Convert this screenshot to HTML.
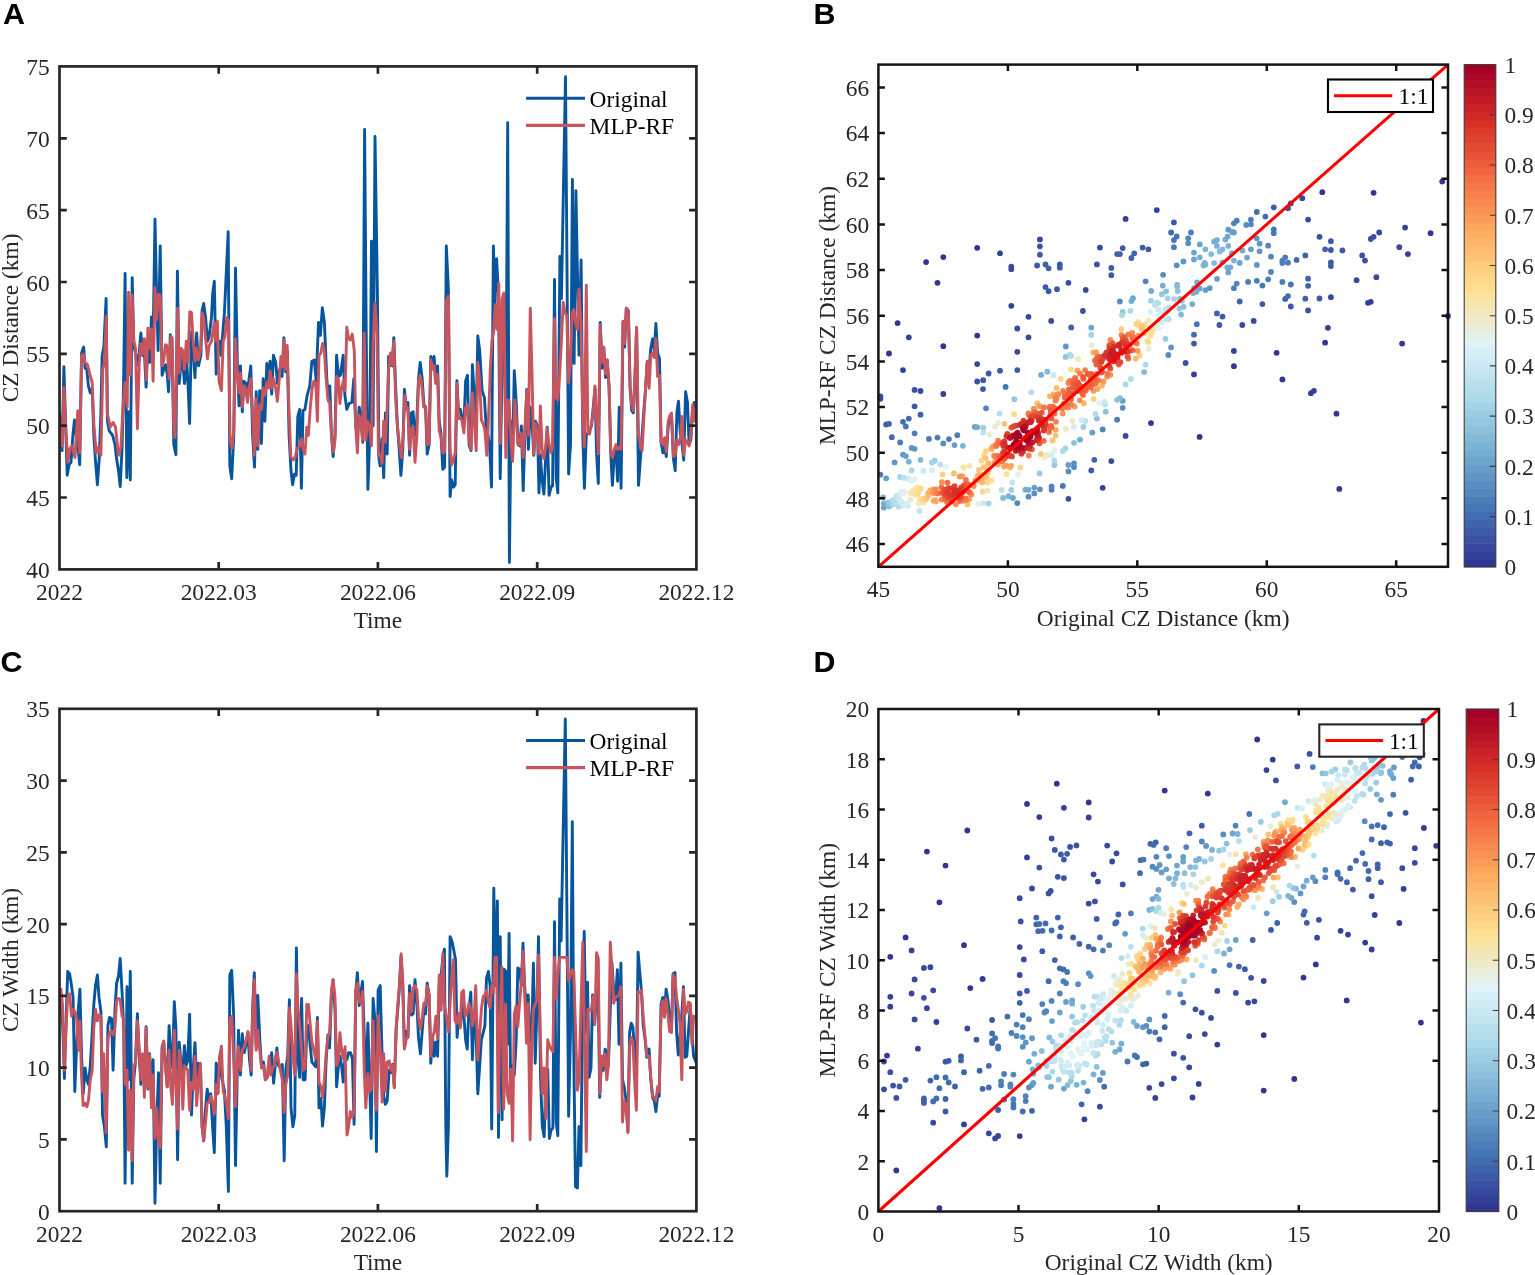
<!DOCTYPE html>
<html lang="en"><head><meta charset="utf-8"><title>Figure</title>
<style>html,body{margin:0;padding:0;background:#fff}body{width:1535px;height:1275px;overflow:hidden}svg{display:block}</style></head><body>
<svg width="1535" height="1275" viewBox="0 0 1535 1275">
<rect width="1535" height="1275" fill="#fff"/>
<clipPath id="ca"><rect x="59.5" y="66.4" width="636.9" height="503.0"/></clipPath>
<polyline clip-path="url(#ca)" points="59.5,412.9 62.1,450.6 63.9,366.6 65.6,423.5 67.2,475.3 69.1,464.7 71,462.4 72.9,435.3 74.5,420 76.2,435.3 77.8,444.7 79.7,464.7 81.6,352.9 83.7,347.1 85.1,368.2 86.8,369.4 88.4,385.9 90.3,392.9 92.2,388.2 93.8,435.3 95.5,461.2 97.4,484.7 99.2,458.8 100.9,411.8 102.1,356.5 103.9,345.9 106.1,298.4 107.5,421.2 109.1,430.6 112.6,435.3 115,444.7 116.6,458.8 118.5,470.6 120.2,486.6 122.1,447.1 123.5,388.2 125.1,273.4 126.8,477.6 128.4,411.8 130.3,480 132.2,277.6 133.8,345.9 135.5,352.9 137.4,364.7 139.2,352.9 140.9,332.9 142.5,355.3 144.4,352.9 146.1,387.1 147.9,341.2 149.6,362.4 151.5,316.9 153.1,341.2 155,219.3 156.6,294.1 158.1,350.6 160.2,245.9 162.1,375.3 163.7,369.4 165.6,364.7 167.2,374.1 168.6,391.8 170.3,334.6 172.2,350.6 173.8,444.7 175.9,454.6 177.4,271.3 179.2,383.5 180.9,364.7 182.1,350.6 184.4,383.5 186.8,362.4 188.2,388.2 189.6,423.5 191.5,331.8 193.4,352.9 195,377.6 196.6,332.9 198.5,365.9 200.9,355.3 202.1,310.6 203.7,303.5 205.6,317.6 207.5,341.2 209.1,336.5 211.5,317.6 212.6,294.1 214.3,281.2 216.2,374.1 217.8,350.6 219.7,341.2 220.9,355.3 224.4,312.9 228.2,231.8 229.8,465.9 231.7,478.8 233.8,435.3 235.5,268.2 237.4,364.7 239,405.9 240.4,365.9 242.3,411.8 243.9,381.2 246.3,383.5 247.9,388.2 250.8,365.9 252.6,435.3 254.5,467.1 256.2,391.8 257.8,449.4 259.7,390.6 261.4,443.5 263.2,378.8 264.9,421.2 266.8,363.5 268.4,381.2 270.1,361.2 271.7,394.1 273.4,355.3 275.7,362.4 277.4,383.5 279.7,369.4 282.1,376.5 283.9,337.6 285.6,371.8 287.2,350.6 289.1,435.3 291,470.6 292.6,484.7 294.5,474.1 296.2,475.3 297.8,416.5 299.7,409.4 301.4,488.2 303,410.6 304.9,409.4 307.2,395.3 309.8,385.9 311.9,361.2 314.3,360 316.2,381.2 318.5,322.4 320.4,335.3 322.3,307.8 324.4,322.4 326.8,378.8 328.4,401.2 329.8,385.9 331.5,435.3 333.1,456.5 335,435.3 336.6,355.3 338.5,376.5 340.4,375.3 343.2,355.3 344.9,395.3 346.8,409.4 349.1,403.5 351.9,402.4 353.8,378.8 355.7,425.9 357.4,435.3 359.2,407.1 360.9,416.5 362.8,442.4 364.6,129.4 366.3,341.2 367.9,489.4 369.8,435.3 371.5,241.2 373.1,425.9 375,136.5 377.4,294.1 379,458.8 380.2,465.9 382.1,438.8 383.7,477.6 385.4,412.9 387.2,454.1 388.6,356.5 390.5,364.7 392.2,365.9 393.8,337.6 395.7,388.2 397.4,425.9 399.2,449.4 400.9,475.3 402.8,449.4 404.4,389.4 406.3,407.1 407.9,402.4 409.6,455.3 411.5,412.9 413.1,411.8 415,435.3 416.6,425.9 418.5,378.8 420.2,362.4 422.1,377.6 423.9,404.7 425.6,407.1 427.2,454.1 429.1,444.7 430.8,356.5 432.4,362.4 434.1,356.5 435.7,378.8 437.6,365.9 439.2,421.2 440.9,432.9 442.8,469.4 444.6,467.1 446.3,245.9 448.4,289.4 450.1,496.5 451.7,480 453.6,487.1 455.2,484.7 456.9,380.7 458.5,411.8 460.4,409.4 462.1,418.8 463.9,425.9 465.6,381.2 467.5,375.3 469.1,444.7 471,450.6 472.4,364.7 474.3,395.3 476.2,421.2 477.8,336 479.7,350.6 482.1,390.6 484.4,397.6 486.1,425.9 487.9,435.3 489.6,445.9 491.5,487.1 493.4,245.9 495,303.5 496.6,258.8 498.5,294.1 500.2,478.8 502.1,364.7 503.9,294.1 505.8,435.3 507.7,122.8 509.4,562.4 511,421.2 512.6,454.1 514.3,370.6 516.2,402.4 518.1,444.7 519.7,445.9 521.4,425.9 523.2,490.6 524.9,435.3 526.8,389.4 528.4,449.4 530.3,407.1 532.2,425.9 533.8,455.3 535.5,421.2 537.4,425.9 539,492.9 540.2,454.1 542.1,480 543.9,494.1 545.6,458.8 547.2,427.1 549.1,495.3 551,487.1 552.6,485.9 554.5,279.5 556.2,477.6 557.8,492.9 559.9,256.5 561.4,298.8 565.5,76.7 568.6,474.1 570.5,444.7 572.4,179.5 574.1,363.5 575.9,190.6 577.4,270.6 579,355.3 581.1,260 582.8,435.3 584.4,488.2 586.3,435.3 587.9,432.9 591.5,425.9 595,388.2 596.6,454.1 598.3,483.5 600.2,322.4 602.1,368.2 603.7,347.1 605.6,377.6 607.2,360 609.1,388.2 610.8,454.1 612.4,485.4 614.3,454.1 615.9,447.1 617.6,481.2 619.2,407.1 621.1,488.2 623,322.4 624.6,347.1 626.3,308.2 628.4,310.6 630.1,388.2 631.7,410.6 633.4,412.9 635,376.5 636.6,328.2 638.5,485.4 640.4,458.8 642.1,435.3 643.7,411.8 645.6,388.2 647.2,362.4 649.1,369.4 650.8,348.2 652.6,338.8 654.3,350.6 655.9,323.5 657.6,352.9 659.5,358.8 661.1,442.4 663,452.9 664.6,447.1 666.3,456.5 668.2,425.9 670.1,416.5 671.5,414.1 673.4,458.8 675.2,470.6 676.9,411.8 678.5,401.2 680.4,435.3 682.1,444.7 683.7,460 685.6,391.8 687.5,402.4 689.1,444.7 690.8,440 692.6,411.8 694.3,402.4 696.4,421.2" fill="none" stroke="#07559d" stroke-width="2.9" stroke-linejoin="round" stroke-linecap="round"/>
<polyline clip-path="url(#ca)" points="58.5,428.2 60.2,431.8 62.1,445.9 63.9,387.1 65.6,425.9 67.9,462.4 69.6,449.4 71.9,445.9 75,457.6 77.8,410.6 79.7,452.9 81.6,355.3 83.2,354.1 85.1,362.4 87.5,364.7 89.8,374.1 92.2,382.4 93.8,423.5 96.2,452.9 98.5,447.1 100.9,455.3 102.8,369.4 104.4,362.4 106.3,316.5 107.2,412.9 110.3,427.1 113.1,422.4 115.5,427.1 118.5,455.3 120.9,447.1 123.2,404.7 125.1,382.4 127.2,407.1 128.6,292.2 130.3,375.3 132.2,295.3 133.8,341.2 135.5,348.2 137.4,428.7 139.2,364.7 140.9,343.5 142.5,354.1 144.4,338.8 146.3,380 147.9,328.2 149.6,348.2 151.5,328.9 153.1,381.2 155,287.5 156.6,320 158.5,294.1 160.2,295.3 162.1,365.9 163.7,360 165.6,344.7 167.2,345.9 169.1,378.8 170.8,336.5 172.2,337.6 173.8,425.9 175,437.6 176.6,364.7 177.6,308.2 179.2,372.9 180.9,348.2 182.8,350.6 184.4,369.4 186.3,341.2 187.9,362.4 189.8,311.8 191.5,312.5 193.1,338.8 195,361.2 196.6,348.2 198.5,360 200.4,350.6 202.1,312.9 203.7,317.6 205.6,338.8 207.5,358.8 209.1,345.9 211.5,341.2 214.3,322.4 215.5,341.2 217.4,321.2 219,381.2 221.4,390.6 223.2,341.2 224.9,336.5 226.8,317.6 228.4,320 230.1,440 231.9,448.2 233.8,430.6 235.5,338.8 237.4,374.1 239,392.9 240.4,372.9 242.3,407.1 243.9,385.9 245.6,388.2 247.5,402.4 249.1,388.2 250.8,378.8 252.6,411.8 254.3,455.3 256.2,398.8 257.8,445.9 259.7,404.7 261.6,409.4 263.2,388.2 264.9,395.3 266.8,382.4 268.4,388.2 270.1,370.6 271.7,388.2 273.4,378.8 275.7,388.2 277.4,401.2 279.7,374.1 280.9,356.5 282.5,367.1 283.9,340 285.6,369.4 287.2,345.4 288.9,407.1 290.8,456.5 293.1,460 295,457.6 297.4,448.2 299.2,447.1 301.4,438.8 303.2,449.4 304.9,454.1 306.8,427.1 308.4,435.3 310.3,407.1 312.2,388.2 313.8,381.2 315.7,382.4 317.4,421.2 319,355.3 320.9,352.9 322.5,343.5 324.4,350.6 326.1,378.8 327.9,398.8 329.6,402.4 331.5,435.3 333.4,451.8 335,440 336.6,376.5 338.3,378.8 339.9,403.5 341.6,388.2 343.7,380 345.1,390.6 346.8,327.1 348.6,338.8 350.3,340 352.2,334.1 354.3,350.6 355.7,425.9 357.4,452.9 359,415.3 360.9,421.2 362.5,440 364.2,332.9 365.8,440 367.5,421.2 369.4,425.9 371.5,445.9 373.1,345.9 375,303.5 376.9,331.8 378.5,455.3 380.2,454.1 382.1,463.5 383.7,421.2 385.4,442.4 387.2,407.1 388.6,369.4 390.5,352.9 392.2,364.7 393.8,341.2 395.7,400 397.4,425.9 399.2,442.4 401.4,457.6 403.2,435.3 404.9,395.3 406.3,409.4 407.9,408.2 409.6,449.4 411.5,428.2 413.1,427.1 415,462.4 416.9,435.3 418.5,381.2 420.2,375.3 422.1,388.2 423.7,407.1 425.6,407.1 427.2,444.7 429.1,443.5 430.8,360 432.4,369.4 434.1,365.9 435.7,383.5 437.6,374.1 439.2,430.6 441.1,437.6 442.8,452.9 444.6,451.8 446.3,301.2 448.4,296 450.1,449.4 451.7,464.7 453.6,458.8 455.2,452.9 456.9,383.5 458.5,418.8 460.4,417.6 462.1,421.2 463.9,432.9 465.6,407.1 467.5,404.7 469.1,440 471,449.4 472.6,392.9 474.3,421.2 476.2,450.6 477.8,362.4 479.7,381.2 481.4,420 483.2,423.5 484.9,430.6 486.8,455.3 488.4,421.2 490.3,369.4 491.9,341.2 493.6,331.8 495.2,304.7 496.9,329.4 498.8,283.5 500.4,443.5 502.1,298.8 503.9,292.9 505.8,457.6 507.5,400 509.1,401.2 511,442.4 512.6,461.2 514.8,400 516.6,422.4 518.1,444.7 519.7,444.7 521.4,432.9 523.2,457.6 524.9,430.6 526.8,390.6 528.4,435.3 530.3,308.2 531.9,369.4 533.8,454.1 535.5,423.5 537.4,435.3 539,454.1 540.4,405.9 542.1,449.4 543.9,458.8 545.6,447.1 547.2,428.2 549.1,444.7 551,452.9 552.6,447.1 554.5,318.8 556.2,397.6 557.8,400 559.7,374.1 561.4,341.2 563.2,302.4 565.1,312.9 566.8,315.3 568.6,382.4 570.3,364.7 572.2,312.9 573.8,309.4 575.5,322.4 577.4,329.4 579,288.9 580.9,322.4 582.5,407.1 584.4,447.1 586.3,285.2 587.9,432.9 589.6,434.1 591.5,423.5 593.4,411.8 595,385.9 596.6,418.8 598.3,454.1 600.2,324.7 602.1,362.4 603.7,347.1 605.6,374.1 607.2,360 609.1,385.9 610.8,452.9 612.4,457.6 614.3,449.4 615.9,444.7 617.6,449.4 619.2,447.1 621.1,449.4 623,321.2 624.6,343.5 626.3,308.2 628.4,311.8 630.1,385.9 631.7,404.7 633.4,410.6 635,374.1 636.6,327.1 638.5,435.3 640.4,444.7 642.1,450.6 643.7,421.2 645.6,388.2 647.2,361.2 649.1,388.2 650.8,355.3 652.6,352.9 654.3,357.6 655.9,338.8 657.6,376.5 659.5,375.3 661.1,442.4 663,444.7 664.6,437.6 666.3,451.8 668.2,421.2 670.1,415.3 671.5,412.9 673.4,456.5 675.2,455.3 676.9,440 678.5,444.7 680.4,437.6 682.1,416.5 683.7,455.3 685.6,440 687.5,442.4 689.1,445.9 690.8,435.3 692.6,404.7 694.3,421.2 696.4,407.1" fill="none" stroke="#c8555d" stroke-width="2.9" stroke-linejoin="round" stroke-linecap="round"/>
<rect x="59.5" y="66.4" width="636.9" height="503.0" fill="none" stroke="#262626" stroke-width="2.7"/>
<path d="M218.7,569.4v-7.3M218.7,66.4v7.3M377.9,569.4v-7.3M377.9,66.4v7.3M537.2,569.4v-7.3M537.2,66.4v7.3M59.5,497.5h7.3M696.4,497.5h-7.3M59.5,425.7h7.3M696.4,425.7h-7.3M59.5,353.8h7.3M696.4,353.8h-7.3M59.5,282h7.3M696.4,282h-7.3M59.5,210.1h7.3M696.4,210.1h-7.3M59.5,138.3h7.3M696.4,138.3h-7.3" stroke="#262626" stroke-width="2.7" fill="none"/>
<g font-family='"Liberation Serif", "Times New Roman", serif' font-size="23.4" fill="#262626">
<text x="49.7" y="577.9" text-anchor="end">40</text>
<text x="49.7" y="506" text-anchor="end">45</text>
<text x="49.7" y="434.2" text-anchor="end">50</text>
<text x="49.7" y="362.3" text-anchor="end">55</text>
<text x="49.7" y="290.5" text-anchor="end">60</text>
<text x="49.7" y="218.6" text-anchor="end">65</text>
<text x="49.7" y="146.8" text-anchor="end">70</text>
<text x="49.7" y="74.9" text-anchor="end">75</text>
<text x="59.5" y="599.7" text-anchor="middle">2022</text>
<text x="218.7" y="599.7" text-anchor="middle">2022.03</text>
<text x="377.9" y="599.7" text-anchor="middle">2022.06</text>
<text x="537.2" y="599.7" text-anchor="middle">2022.09</text>
<text x="696.4" y="599.7" text-anchor="middle">2022.12</text>
<text x="377.9" y="627.7" text-anchor="middle">Time</text>
<text transform="translate(17.6,317.9) rotate(-90)" text-anchor="middle">CZ Distance (km)</text>
</g>
<path d="M526.1,98.2H585" stroke="#07559d" stroke-width="3.1"/>
<path d="M526.1,125.4H585" stroke="#c8555d" stroke-width="3.1"/>
<g font-family='"Liberation Serif", "Times New Roman", serif' font-size="23.4" fill="#000"><text x="589.6" y="106.9">Original</text><text x="589.6" y="133.9">MLP-RF</text></g>
<clipPath id="cc"><rect x="59.5" y="708.8" width="636.9" height="502.4000000000001"/></clipPath>
<polyline clip-path="url(#cc)" points="59,1013.8 60.9,997.4 62.8,1027.9 64.4,1078.5 66.1,1018.5 67.7,971.5 69.6,973.8 71.5,985.6 73.1,997.4 74.8,1091.5 76.6,1046.8 78.3,1009.1 79.9,989.1 81.6,1056.2 83.2,1093.8 85.1,1067.9 86.8,1079.7 88.4,1084.4 90.3,1065.6 92.2,1032.6 93.8,1004.4 95.5,985.6 97.4,975 99,997.4 100.9,1011.5 102.5,1115 104.4,1126.8 106.3,1146.8 107.9,1025.6 109.6,1017.4 111.5,1018.5 113.1,1070.3 115,1009.1 116.6,983.2 118.5,976.2 120.2,958.5 122.1,992.6 123.7,1027.9 125.1,1183.2 127,986.8 128.6,1079.7 130.3,971.5 132.2,1183.2 133.8,1079.7 135.5,1060.9 137.4,1013.8 139.2,1056.2 140.9,1084.4 142.5,1056.2 144.4,1079.7 146.1,1026.8 147.9,1089.1 149.6,1053.8 151.5,1093.8 153.1,1059.7 155,1203.2 156.6,1126.8 158.5,1072.6 160.2,1183.2 162.1,1046.8 163.7,1042.1 165.6,1065.6 167.2,1086.8 169.1,1025.6 170.8,1056.2 172.4,1067.9 174.3,1001.6 175.9,1027.9 177.6,1159.7 179.2,1042.1 180.9,1060.9 182.5,1079.7 184.4,1045.6 186.1,1065.6 187.7,1060.9 189.6,1014.3 191.5,1115 193.4,1065.6 195,1042.8 196.6,1079.7 198.5,1063.2 200.4,1065.6 202.1,1126.8 203.7,1140.9 205.6,1107.9 207.2,1089.1 209.1,1100.9 210.8,1093.8 212.6,1126.8 214.3,1152.6 216.2,1063.2 217.8,1093.8 219.7,1056.2 220.2,1065.6 222.1,1079.7 224.4,1090.3 226.3,1126.8 228.4,1191.5 229.8,975 231.7,970.3 233.6,1013.8 235.5,1165.6 237.1,1079.7 238.5,1030.3 240.4,1075 242.3,1033.8 244.2,1052.6 246.1,1044.4 247.9,1032.6 249.6,1060.9 251.2,1075 252.6,1009.1 254.3,972.6 256.2,1046.8 257.8,995.5 259.7,1037.4 261.6,1067.9 263.5,1062.1 265.4,1079.7 267.2,1077.4 269.1,1067.9 271.7,1052.6 273.6,1083.2 275.2,1065.6 276.9,1047.9 278.5,1065.6 280.4,1067.9 282.3,1064.4 284.2,1160.9 285.8,1069.1 287.7,1056.2 289.4,999.7 291,1107.9 292.9,1126.8 294.8,1115 296.4,947.9 298.1,1060.9 299.7,1077.4 301.6,998.5 303.2,1079.7 305.1,1079.7 306.8,1030.3 308.4,1025.6 310.3,1046.8 311.9,1062.1 313.8,1064.4 315.7,1066.8 317.4,1017.4 319,1107.9 320.9,1098.5 322.5,1126.1 324.4,1107.9 326.1,1060.9 327.9,1035 329.6,1047.9 331.5,992.6 333.1,979.7 335,1009.1 336.6,1086.8 338.3,1067.9 339.9,1056.2 341.6,1065.6 343.2,1082.1 345.1,1056.2 346.8,1059.7 348.6,1052.6 350.5,1052.6 352.4,1058.5 354.1,1124.4 355.7,992.6 357.4,972.6 359.2,1005.6 360.9,992.6 362.5,981.4 364.2,1032.6 365.8,1093.8 367.9,1023.2 369.6,1079.7 371.2,1138.5 373.1,998.5 375,1020.9 376.4,1151.5 378.1,990.3 380.2,985.6 382.1,1056.2 383.7,1096.2 385.4,1104.4 387.2,1100.9 389.1,1070.3 391,1072.6 392.6,1064.4 394.3,1086.8 396.2,1027.9 397.8,1009.1 399.5,985.6 401.1,956.2 402.8,985.6 404.4,1046.8 406.1,1031.5 407.9,1037.4 409.6,985.6 411.5,1015 413.1,1013.8 415,979.7 416.9,1004.4 418.5,1037.4 420.4,1053.8 422.1,1032.6 423.9,1009.1 425.6,1013.8 427.2,983.2 429.1,995 430.8,1063.2 432.6,1037.4 434.3,1056.2 435.9,1042.1 437.6,1056.2 439.2,985.6 441.1,976.2 442.8,957.4 444.4,949.1 445.8,1126.8 446.8,1176.2 448.4,1126.8 450.1,936.6 452.2,942.1 453.8,950.3 455.5,959.7 457.1,1037.4 459,1013.8 460.6,1025.6 462.3,992.6 463.9,1016.2 465.6,1039.7 467.2,1049.1 468.9,1009.1 470.8,992.2 472.4,1059.7 474.1,1013.8 475.7,1018.5 477.8,1093.8 479.7,1065.6 481.4,1039.7 483.2,1032.6 484.9,1025.6 486.5,978.5 488.4,971.5 490.1,985.6 491.7,1129.1 493.8,888.2 495.5,985.6 497.4,900.9 498.5,1137.4 500.2,936.6 502.1,1119.7 503.9,969.1 505.8,971.5 507.5,1044.4 509.1,933.4 510.8,1103.2 512.6,1065.6 514.3,1075 516.2,1039.7 517.8,967.9 519.5,969.1 521.4,985.6 523,943.2 524.6,985.6 526.5,1009.1 528.2,995 530.1,1042.1 531.7,1032.6 533.4,963.2 535.2,1063.2 536.9,1009.1 538.5,936.6 540.6,1079.7 542.3,1126.8 544.2,1136.6 545.8,1079.7 547.7,1069.1 549.4,1138.5 551,1130.3 552.9,1127.9 554.5,921.6 556.2,1122.1 557.8,1135.7 559.7,899 561.1,940.9 565.3,719 568.6,1116.2 570.5,1032.6 572.3,821.8 573.8,1056.2 575.5,1186.8 577.4,1187.9 579,1126.8 580.9,1165.6 582.5,1009.1 584.2,931.5 585.8,1032.6 587.5,982.1 589.1,1077.4 591,1067.9 592.6,995 594.3,1024.4 596.2,1004.4 597.8,962.1 599.7,1097.4 601.6,1056.2 603.2,1070.3 605.1,1049.1 606.8,1053.8 608.4,1065.6 610.3,1009.1 611.9,962.1 613.8,992.6 615.5,999.7 617.4,969.6 619,1044.4 620.9,963.2 622.5,1079.7 624.4,1087.9 626.1,1100.9 627.9,1131.5 629.6,1032.6 631.2,1023.2 632.9,1026.8 634.8,1056.2 636.4,1067.9 638.1,952.2 639.7,971.5 641.4,990.3 643.2,1025.6 644.9,1037.4 646.8,1057.4 649.1,1049.1 650.8,1079.7 652.6,1097.4 654.3,1100.9 655.9,1111.5 657.6,1096.2 659.2,1096.2 661.1,1004.4 662.8,997.4 664.4,1016.2 666.1,989.1 667.9,999.7 669.6,1018.5 671.5,1027.9 673.1,973.8 675,972.6 676.6,1032.6 678.3,1055 679.9,1037.4 681.8,1013.8 683.5,986.8 685.1,1057.4 686.8,1056.2 688.4,1032.6 690.3,1005.6 691.9,1032.6 693.6,1056.2 696.4,1063.2" fill="none" stroke="#07559d" stroke-width="2.9" stroke-linejoin="round" stroke-linecap="round"/>
<polyline clip-path="url(#cc)" points="59,999.7 60.9,989.1 62.5,1004.4 64.4,1070.3 66.1,1027.9 67.7,996.2 69.6,993.8 71.5,1016.2 73.1,1009.1 74.8,1011.5 76.6,1017.4 78.3,1050.3 79.9,1020.9 81.6,1077.4 83.2,1105.6 85.1,1103.2 86.8,1106.8 88.4,1100.9 90.3,1079.7 92.2,1070.3 93.8,1027.9 95.5,1009.1 97.4,1020.9 99,1015 100.9,1016.2 102.5,1091.5 103.9,1053.8 106.1,1132.6 107.9,1039.7 109.6,1032.6 111.5,1031.5 113.1,1035 115,1027.9 116.6,1000.9 118.5,998.5 120.2,999.7 122.1,1016.2 123.7,1018.5 125.1,1084.4 127,1070.3 128.6,1150.3 130.3,1090.3 132.2,1160.9 133.8,1065.6 135.5,1063.2 137.4,1020.9 139.2,1049.1 140.9,1079.7 142.5,1053.8 144.4,1097.4 146.1,1027.9 147.9,1087.9 149.6,1055 151.5,1107.9 153.1,1075 155,1138.5 156.6,1107.9 158.5,1140.9 160.2,1147.9 162.1,1049.1 163.7,1040.9 165.6,1067.9 167.2,1086.8 169.1,1050.3 170.8,1086.8 172.4,1104.4 174.3,1030.3 175.9,1084.4 177.6,1129.1 179.2,1050.3 180.9,1065.6 182.8,1109.1 184.4,1065.6 186.1,1067.9 187.7,1070.3 189.6,1110.3 191.5,1082.1 193.4,1089.1 195,1056.2 196.6,1105.6 198.5,1079.7 200.4,1063.2 202.1,1126.8 203.7,1140.9 205.6,1122.1 207.2,1103.2 209.1,1102.1 210.8,1096.2 212.6,1103.2 214.3,1113.8 216.2,1084.4 217.8,1093.8 219.7,1056.2 221.4,1046.3 223.2,1091.5 224.9,1096.2 226.8,1105.6 228.4,1118.5 229.8,1018.5 231.7,1016.2 233.6,1056.2 235.5,1106.8 237.1,1065.6 238.5,1046.8 240.4,1070.3 242.3,1050.3 244.2,1046.8 246.1,1040.9 247.9,1031.5 249.6,1043.2 251.2,1070.3 252.6,1013.8 254.3,979.7 256.2,1050.3 257.8,1030.3 259.7,1049.1 261.6,1067.9 263.5,1065.6 265.4,1079.7 267.2,1077.4 269.1,1056.2 270.8,1075 272.6,1067.9 274.3,1065.6 275.9,1056.2 276.9,1052.2 278.5,1060.9 280.4,1070.3 282.3,1079.7 284.2,1112.6 285.8,1084.4 287.7,1075 289.4,1007.9 291,1025.6 292.9,1056.2 294.8,1075 296.4,973.8 298.1,1009.1 299.7,1025.6 301.6,1049.1 303.2,1070.3 305.1,1067.9 306.8,1004.4 308.4,1004.4 310.3,1025.6 311.9,1042.1 313.8,1050.3 315.7,1058.5 317.4,1020.9 319,1082.1 320.9,1086.8 322.5,1097.4 324.4,1079.7 326.1,1053.8 327.9,1037.4 329.6,1032.6 331.5,990.3 333.1,979.7 335,997.4 336.6,1065.6 338.3,1060.9 339.9,1032.6 341.6,1050.3 343.2,1058.5 345.1,1046.8 346.5,1115 347,1135 348.6,1126.8 350.3,1111.5 352.2,1117.4 354.1,1112.6 355.7,990.3 357.4,983.2 359.2,1000.9 360.9,1003.2 362.5,991.5 364.2,1070.3 365.8,1107.9 367.9,1073.8 369.6,1091.5 371.2,1089.1 373.1,1020.9 375,1079.7 376.4,1110.3 378.1,1016.2 380.2,1046.8 382.1,1102.1 383.7,1053.8 385.4,1091.5 387.2,1062.1 389.1,1060.9 391,1070.3 392.6,1065.6 394.3,1087.9 396.2,1027.9 397.8,1004.4 399.5,985.6 401.1,953.8 402.8,983.2 404.4,1049.1 406.1,1039.7 407.9,1036.2 409.6,993.8 411.5,1011.5 413.1,987.9 415,985.6 416.9,990.3 418.5,1017.4 420.4,1029.1 422.1,1018.5 423.9,1003.2 425.6,1004.4 427.2,985.6 429.1,995 430.8,1056.2 432.6,1037.4 434.3,1031.5 435.9,1016.2 437.6,1038.5 439.2,975 441.1,1010.3 442.8,953.8 444.4,1004.4 446.1,1013.8 448.4,1031.5 450.1,1004.4 451.7,976.2 453.4,959.7 455,1020.9 456.6,1023.2 458.5,1013.8 460.2,1027.9 461.8,992.6 463.5,990.3 465.1,1016.2 467,1013.8 468.9,1003.2 470.8,1009.1 472.4,1025.6 474.1,1018.5 475.7,985.6 477.8,1059.7 479.7,1032.6 481.4,1009.1 483.2,996.2 484.9,995 486.5,990.3 488.4,1002.1 490.1,1007.9 491.7,985.6 493.4,992.6 495,957.4 496.6,957.4 498.3,1112.6 499.9,1025.6 501.8,966.8 503.7,1109.1 505.6,1004.4 507.2,1093.8 509.1,1103.2 511,1069.1 512.6,1140.9 514.3,1013.8 516.2,1005.6 517.8,1026.8 519.5,1004.4 521.4,980.9 523,951.5 524.6,992.6 526.5,1043.2 528.2,1003.2 530.1,1139.7 531.7,1046.8 533.4,1009.1 535.2,1004.4 536.9,999.7 538.5,955 540.6,1046.8 542.3,1093.8 544.2,1067.9 545.8,1118.5 547.7,1039.7 549.4,1045.6 551,1049.1 552.9,1051.5 554.5,957.4 556.2,998.5 557.8,973.8 559.7,957.4 561.4,957.4 563.2,957.4 565.1,957.4 566.8,957.4 568.6,980.9 570.3,976.2 572.2,969.6 573.8,971.5 575.5,1027.9 577.4,1090.3 579,1079.7 580.9,1009.1 582.8,942.1 584.4,1032.6 586.3,1151.5 587.9,1009.1 589.6,1010.3 591.5,1009.1 593.1,996.2 594.8,1024.4 596.6,952.6 598.3,958.5 599.9,1093.8 601.6,1056.2 603.2,1065.6 605.1,1053.8 606.8,1079.7 608.4,1065.6 610.3,942.1 611.9,969.1 613.8,1003.2 615.5,997.4 617.4,996.2 619,995 620.9,986.8 622.5,1122.1 624.4,1100.9 626.1,1105.6 627.9,1132.6 629.6,1046.8 631.2,1037.4 632.9,1042.1 634.8,1084.4 636.4,1110.3 638.1,991.5 639.7,992.6 641.4,990.3 643.2,1016.2 644.9,1035 646.8,1056.2 649.1,1056.2 650.8,1077.4 652.6,1096.2 654.3,1097.4 655.9,1100.9 657.6,1086.8 659.2,1091.5 661.1,1009.1 662.8,1000.9 664.4,1017.4 666.1,998.5 667.9,1013.8 669.6,1031.5 671.5,1032.6 673.1,975 675,978.5 676.6,997.4 678.3,1009.1 679.9,1023.2 681.8,1079.7 683.5,989.1 685.1,1013.8 686.8,1011.5 688.4,1002.1 690.3,1003.2 691.9,1044.4 693.6,1016.2 696.4,1018.5" fill="none" stroke="#c8555d" stroke-width="2.9" stroke-linejoin="round" stroke-linecap="round"/>
<rect x="59.5" y="708.8" width="636.9" height="502.4000000000001" fill="none" stroke="#262626" stroke-width="2.7"/>
<path d="M218.7,1211.2v-7.3M218.7,708.8v7.3M377.9,1211.2v-7.3M377.9,708.8v7.3M537.2,1211.2v-7.3M537.2,708.8v7.3M59.5,1139.4h7.3M696.4,1139.4h-7.3M59.5,1067.7h7.3M696.4,1067.7h-7.3M59.5,995.9h7.3M696.4,995.9h-7.3M59.5,924.1h7.3M696.4,924.1h-7.3M59.5,852.3h7.3M696.4,852.3h-7.3M59.5,780.6h7.3M696.4,780.6h-7.3" stroke="#262626" stroke-width="2.7" fill="none"/>
<g font-family='"Liberation Serif", "Times New Roman", serif' font-size="23.4" fill="#262626">
<text x="49.7" y="1219.7" text-anchor="end">0</text>
<text x="49.7" y="1147.9" text-anchor="end">5</text>
<text x="49.7" y="1076.2" text-anchor="end">10</text>
<text x="49.7" y="1004.4" text-anchor="end">15</text>
<text x="49.7" y="932.6" text-anchor="end">20</text>
<text x="49.7" y="860.8" text-anchor="end">25</text>
<text x="49.7" y="789.1" text-anchor="end">30</text>
<text x="49.7" y="717.3" text-anchor="end">35</text>
<text x="59.5" y="1242.0" text-anchor="middle">2022</text>
<text x="218.7" y="1242.0" text-anchor="middle">2022.03</text>
<text x="377.9" y="1242.0" text-anchor="middle">2022.06</text>
<text x="537.2" y="1242.0" text-anchor="middle">2022.09</text>
<text x="696.4" y="1242.0" text-anchor="middle">2022.12</text>
<text x="377.9" y="1270.0" text-anchor="middle">Time</text>
<text transform="translate(17.6,960) rotate(-90)" text-anchor="middle">CZ Width (km)</text>
</g>
<path d="M526.1,740.5H585" stroke="#07559d" stroke-width="3.1"/>
<path d="M526.1,767.6H585" stroke="#c8555d" stroke-width="3.1"/>
<g font-family='"Liberation Serif", "Times New Roman", serif' font-size="23.4" fill="#000"><text x="589.6" y="748.9">Original</text><text x="589.6" y="776.0">MLP-RF</text></g>
<clipPath id="cb"><rect x="874.9" y="61.099999999999994" width="576.6" height="509.19999999999993"/></clipPath>
<g clip-path="url(#cb)">
<g fill="#313695">
<circle cx="1339.3" cy="488.9" r="2.9"/>
<circle cx="1448" cy="316" r="2.9"/>
<circle cx="1442.2" cy="181.6" r="2.9"/>
<circle cx="1199.6" cy="436.9" r="2.9"/>
<circle cx="1402.1" cy="343.6" r="2.9"/>
<circle cx="1373.6" cy="192.8" r="2.9"/>
<circle cx="1336.5" cy="413.7" r="2.9"/>
<circle cx="943.3" cy="346.2" r="2.9"/>
<circle cx="1276.6" cy="352.8" r="2.9"/>
<circle cx="1282.4" cy="379.4" r="2.9"/>
<circle cx="1430.6" cy="233.2" r="2.9"/>
<circle cx="977.2" cy="247.8" r="2.9"/>
<circle cx="937.5" cy="282.8" r="2.9"/>
<circle cx="897.6" cy="323.1" r="2.9"/>
<circle cx="977.2" cy="335.6" r="2.9"/>
<circle cx="926.1" cy="262.1" r="2.9"/>
<circle cx="1325.1" cy="342.7" r="2.9"/>
<circle cx="1233.9" cy="366.2" r="2.9"/>
<circle cx="943.3" cy="257.1" r="2.9"/>
<circle cx="1322.3" cy="192.2" r="2.9"/>
<circle cx="889" cy="353.5" r="2.9"/>
<circle cx="1151" cy="423.1" r="2.9"/>
</g>
<g fill="#343f99">
<circle cx="908.8" cy="337.3" r="2.9"/>
<circle cx="1313.9" cy="390.8" r="2.9"/>
<circle cx="1310.9" cy="393.2" r="2.9"/>
<circle cx="1125.6" cy="218.9" r="2.9"/>
<circle cx="1011.3" cy="305.8" r="2.9"/>
<circle cx="1194" cy="374.4" r="2.9"/>
<circle cx="1327.9" cy="327.8" r="2.9"/>
<circle cx="1102.7" cy="487.8" r="2.9"/>
<circle cx="1156.8" cy="210.1" r="2.9"/>
<circle cx="1407.9" cy="254.1" r="2.9"/>
<circle cx="1405.1" cy="227.6" r="2.9"/>
<circle cx="1233.9" cy="350.9" r="2.9"/>
<circle cx="1370.8" cy="301.8" r="2.9"/>
<circle cx="903" cy="370.1" r="2.9"/>
<circle cx="1368" cy="302.8" r="2.9"/>
<circle cx="1000" cy="253.4" r="2.9"/>
<circle cx="943.3" cy="394" r="2.9"/>
</g>
<g fill="#37489e">
<circle cx="880.4" cy="396.4" r="2.9"/>
<circle cx="1376.4" cy="277.2" r="2.9"/>
<circle cx="1017.3" cy="328.5" r="2.9"/>
<circle cx="1399.3" cy="247.2" r="2.9"/>
<circle cx="880.4" cy="398.8" r="2.9"/>
<circle cx="1028.5" cy="316.8" r="2.9"/>
<circle cx="1302.3" cy="198.2" r="2.9"/>
<circle cx="1111.3" cy="461.1" r="2.9"/>
<circle cx="1011.3" cy="269.2" r="2.9"/>
<circle cx="1011.3" cy="266.6" r="2.9"/>
<circle cx="1028.5" cy="337.3" r="2.9"/>
<circle cx="1039.9" cy="239.4" r="2.9"/>
<circle cx="1017.3" cy="351.8" r="2.9"/>
<circle cx="1051.2" cy="320.9" r="2.9"/>
<circle cx="1379.2" cy="232.5" r="2.9"/>
<circle cx="1253.7" cy="320.9" r="2.9"/>
<circle cx="1356.6" cy="280.2" r="2.9"/>
<circle cx="1308.1" cy="219.6" r="2.9"/>
<circle cx="1085.7" cy="289.9" r="2.9"/>
<circle cx="977.2" cy="364.1" r="2.9"/>
<circle cx="1099.9" cy="247.6" r="2.9"/>
<circle cx="1330.9" cy="297.2" r="2.9"/>
<circle cx="920.5" cy="391" r="2.9"/>
<circle cx="1242.3" cy="325" r="2.9"/>
<circle cx="1125.6" cy="435.9" r="2.9"/>
</g>
<g fill="#3a51a2">
<circle cx="914.6" cy="389.9" r="2.9"/>
<circle cx="1373.6" cy="236.8" r="2.9"/>
<circle cx="1370.8" cy="239" r="2.9"/>
<circle cx="1290.8" cy="203.4" r="2.9"/>
<circle cx="1185.6" cy="363" r="2.9"/>
<circle cx="1096.9" cy="264.4" r="2.9"/>
<circle cx="1068.4" cy="498.8" r="2.9"/>
<circle cx="1365" cy="260.6" r="2.9"/>
<circle cx="1039.9" cy="246.3" r="2.9"/>
<circle cx="1362.2" cy="255.4" r="2.9"/>
<circle cx="1288" cy="208.2" r="2.9"/>
<circle cx="1308.1" cy="310.4" r="2.9"/>
<circle cx="977.2" cy="381.5" r="2.9"/>
<circle cx="1319.5" cy="236.8" r="2.9"/>
<circle cx="1082.9" cy="311" r="2.9"/>
<circle cx="1068.4" cy="282.8" r="2.9"/>
</g>
<g fill="#3c5aa7">
<circle cx="1319.5" cy="298.5" r="2.9"/>
<circle cx="1048.6" cy="291.2" r="2.9"/>
<circle cx="1219.4" cy="325" r="2.9"/>
<circle cx="1000" cy="370.7" r="2.9"/>
<circle cx="1330.9" cy="241.2" r="2.9"/>
<circle cx="1057" cy="289.2" r="2.9"/>
<circle cx="1111.3" cy="275.2" r="2.9"/>
<circle cx="988.6" cy="373.5" r="2.9"/>
<circle cx="1045.5" cy="287.1" r="2.9"/>
<circle cx="1273.8" cy="207.3" r="2.9"/>
<circle cx="1173.9" cy="222.4" r="2.9"/>
<circle cx="983.2" cy="380.2" r="2.9"/>
<circle cx="1342.4" cy="250.4" r="2.9"/>
<circle cx="1262.4" cy="304.1" r="2.9"/>
<circle cx="1039.9" cy="254.7" r="2.9"/>
<circle cx="1017.3" cy="370.1" r="2.9"/>
<circle cx="1290.8" cy="306.5" r="2.9"/>
<circle cx="1111.3" cy="267.9" r="2.9"/>
<circle cx="1059.8" cy="264.4" r="2.9"/>
<circle cx="886.2" cy="424.4" r="2.9"/>
<circle cx="1330.9" cy="266" r="2.9"/>
<circle cx="1194" cy="343.6" r="2.9"/>
<circle cx="914.6" cy="406.3" r="2.9"/>
<circle cx="1142.6" cy="247.6" r="2.9"/>
<circle cx="1091.3" cy="470.4" r="2.9"/>
<circle cx="1059.8" cy="267.7" r="2.9"/>
<circle cx="983" cy="389.1" r="2.9"/>
<circle cx="1330.9" cy="262.3" r="2.9"/>
<circle cx="1222.5" cy="316.6" r="2.9"/>
<circle cx="1122.7" cy="248.1" r="2.9"/>
<circle cx="1037.1" cy="265.5" r="2.9"/>
<circle cx="1148.4" cy="249.3" r="2.9"/>
<circle cx="1330.9" cy="250" r="2.9"/>
</g>
<g fill="#3f63ab">
<circle cx="1325.1" cy="249.3" r="2.9"/>
<circle cx="1117.1" cy="254.1" r="2.9"/>
<circle cx="889" cy="423.8" r="2.9"/>
<circle cx="1119.9" cy="254.1" r="2.9"/>
<circle cx="920.5" cy="414.7" r="2.9"/>
<circle cx="1134.2" cy="253.4" r="2.9"/>
<circle cx="1094.3" cy="459.8" r="2.9"/>
<circle cx="1305.3" cy="298.7" r="2.9"/>
<circle cx="1045.5" cy="264.4" r="2.9"/>
<circle cx="1048.6" cy="268.3" r="2.9"/>
<circle cx="1131.4" cy="258" r="2.9"/>
<circle cx="1239.7" cy="301.5" r="2.9"/>
<circle cx="1071.2" cy="327.4" r="2.9"/>
<circle cx="1305.3" cy="255.4" r="2.9"/>
<circle cx="1285.2" cy="298.9" r="2.9"/>
<circle cx="1308.1" cy="285.8" r="2.9"/>
<circle cx="1216.9" cy="313.4" r="2.9"/>
<circle cx="1308.1" cy="278.7" r="2.9"/>
</g>
<g fill="#426cb0">
<circle cx="1171.1" cy="232.5" r="2.9"/>
<circle cx="1256.8" cy="212" r="2.9"/>
<circle cx="1288" cy="296.1" r="2.9"/>
<circle cx="1194" cy="334.7" r="2.9"/>
<circle cx="891.8" cy="437.2" r="2.9"/>
<circle cx="908.8" cy="418.6" r="2.9"/>
<circle cx="1265.4" cy="216.6" r="2.9"/>
<circle cx="903" cy="421.8" r="2.9"/>
<circle cx="1296.6" cy="259.9" r="2.9"/>
</g>
<g fill="#4575b4">
<circle cx="1273.8" cy="229.3" r="2.9"/>
<circle cx="1062.8" cy="485.9" r="2.9"/>
<circle cx="1005.6" cy="386.9" r="2.9"/>
<circle cx="905.8" cy="426.4" r="2.9"/>
<circle cx="1290.8" cy="284.5" r="2.9"/>
<circle cx="1273.8" cy="233.2" r="2.9"/>
<circle cx="1176.7" cy="236.4" r="2.9"/>
<circle cx="1173.9" cy="240.1" r="2.9"/>
<circle cx="1262.4" cy="285.6" r="2.9"/>
<circle cx="1196.8" cy="324.2" r="2.9"/>
</g>
<g fill="#4c7db8">
<circle cx="1282.4" cy="281.9" r="2.9"/>
<circle cx="937.5" cy="437.6" r="2.9"/>
<circle cx="1288" cy="262.7" r="2.9"/>
<circle cx="1285.2" cy="257.3" r="2.9"/>
<circle cx="1051.6" cy="489.8" r="2.9"/>
<circle cx="1173.9" cy="247.2" r="2.9"/>
<circle cx="914.6" cy="433.3" r="2.9"/>
<circle cx="1191" cy="232.5" r="2.9"/>
<circle cx="1250.9" cy="219.6" r="2.9"/>
<circle cx="880.4" cy="474.7" r="2.9"/>
<circle cx="1117.1" cy="419.7" r="2.9"/>
<circle cx="1233.9" cy="288.2" r="2.9"/>
<circle cx="900.2" cy="442.5" r="2.9"/>
<circle cx="1268.2" cy="279.3" r="2.9"/>
<circle cx="928.9" cy="438.9" r="2.9"/>
<circle cx="1256.8" cy="280.8" r="2.9"/>
<circle cx="1282.4" cy="260.6" r="2.9"/>
<circle cx="957.3" cy="435.2" r="2.9"/>
<circle cx="1282.4" cy="263.1" r="2.9"/>
<circle cx="948.9" cy="439.1" r="2.9"/>
<circle cx="1236.7" cy="220.7" r="2.9"/>
<circle cx="1248.1" cy="281.9" r="2.9"/>
</g>
<g fill="#5285bc">
<circle cx="1145.6" cy="281.3" r="2.9"/>
<circle cx="1051.6" cy="486.5" r="2.9"/>
<circle cx="1236.7" cy="283.6" r="2.9"/>
<circle cx="1271" cy="272" r="2.9"/>
<circle cx="1250.9" cy="224.3" r="2.9"/>
<circle cx="1017.3" cy="503.1" r="2.9"/>
<circle cx="1188.2" cy="238.3" r="2.9"/>
<circle cx="1233.9" cy="223.3" r="2.9"/>
<circle cx="1074" cy="467.1" r="2.9"/>
<circle cx="1102.7" cy="429.4" r="2.9"/>
<circle cx="1268.2" cy="245.7" r="2.9"/>
<circle cx="986" cy="408.3" r="2.9"/>
<circle cx="1271" cy="256.7" r="2.9"/>
</g>
<g fill="#598dc0">
<circle cx="943.3" cy="443.4" r="2.9"/>
<circle cx="1122.7" cy="407.8" r="2.9"/>
<circle cx="1119.9" cy="301.5" r="2.9"/>
<circle cx="1168.3" cy="355" r="2.9"/>
<circle cx="1246.2" cy="224.9" r="2.9"/>
<circle cx="1068.4" cy="471.4" r="2.9"/>
<circle cx="1163.1" cy="274.8" r="2.9"/>
<circle cx="1176.7" cy="265.3" r="2.9"/>
<circle cx="1028.5" cy="496.7" r="2.9"/>
<circle cx="1034.3" cy="493.4" r="2.9"/>
<circle cx="1074" cy="463.3" r="2.9"/>
<circle cx="1188.2" cy="243.3" r="2.9"/>
<circle cx="1039.9" cy="489.3" r="2.9"/>
</g>
<g fill="#6095c5">
<circle cx="911.6" cy="447.9" r="2.9"/>
<circle cx="894.6" cy="462.4" r="2.9"/>
<circle cx="1259.6" cy="243.7" r="2.9"/>
<circle cx="1256.8" cy="264.9" r="2.9"/>
<circle cx="1256.8" cy="238.3" r="2.9"/>
<circle cx="1259.6" cy="251.3" r="2.9"/>
<circle cx="1183.4" cy="261.5" r="2.9"/>
<circle cx="903" cy="454.6" r="2.9"/>
<circle cx="1065.8" cy="346.4" r="2.9"/>
<circle cx="914.6" cy="448.8" r="2.9"/>
<circle cx="1228.3" cy="229.7" r="2.9"/>
<circle cx="1171.1" cy="347.4" r="2.9"/>
<circle cx="1209.7" cy="288.1" r="2.9"/>
</g>
<g fill="#679dc9">
<circle cx="954.5" cy="445.1" r="2.9"/>
<circle cx="1092.3" cy="432.6" r="2.9"/>
<circle cx="1068.4" cy="465" r="2.9"/>
<circle cx="1205.4" cy="290.1" r="2.9"/>
<circle cx="905.8" cy="456.1" r="2.9"/>
<circle cx="1232.1" cy="232" r="2.9"/>
<circle cx="1217" cy="278.8" r="2.9"/>
<circle cx="1122.7" cy="400.9" r="2.9"/>
<circle cx="1233.9" cy="232.5" r="2.9"/>
<circle cx="1250.9" cy="249.3" r="2.9"/>
<circle cx="974.8" cy="426.8" r="2.9"/>
<circle cx="1034.3" cy="487.6" r="2.9"/>
<circle cx="886.2" cy="478.3" r="2.9"/>
</g>
<g fill="#6da5cd">
<circle cx="1199.8" cy="244.4" r="2.9"/>
<circle cx="1132.9" cy="298.2" r="2.9"/>
<circle cx="1247.1" cy="257.6" r="2.9"/>
<circle cx="1228.3" cy="272.4" r="2.9"/>
<circle cx="1194" cy="252.6" r="2.9"/>
<circle cx="1012.9" cy="497.9" r="2.9"/>
<circle cx="1028.5" cy="489.8" r="2.9"/>
<circle cx="883.8" cy="507.6" r="2.9"/>
<circle cx="1194" cy="259.5" r="2.9"/>
<circle cx="1199.7" cy="288.5" r="2.9"/>
<circle cx="1239.7" cy="262.9" r="2.9"/>
<circle cx="1091.3" cy="327.6" r="2.9"/>
<circle cx="1227.6" cy="236.6" r="2.9"/>
</g>
<g fill="#74add1">
<circle cx="1131.4" cy="301.1" r="2.9"/>
<circle cx="1192.3" cy="304.1" r="2.9"/>
<circle cx="1230.3" cy="267.3" r="2.9"/>
<circle cx="1196.4" cy="291.7" r="2.9"/>
<circle cx="1197.1" cy="282.4" r="2.9"/>
<circle cx="1242.5" cy="250.6" r="2.9"/>
<circle cx="1216.9" cy="240.1" r="2.9"/>
<circle cx="1214.1" cy="241.6" r="2.9"/>
<circle cx="1025.4" cy="489.7" r="2.9"/>
<circle cx="1041.1" cy="374.9" r="2.9"/>
<circle cx="1227.3" cy="267.3" r="2.9"/>
<circle cx="977.2" cy="427.2" r="2.9"/>
<circle cx="1194.5" cy="292.1" r="2.9"/>
<circle cx="1199.8" cy="257.3" r="2.9"/>
<circle cx="1162.7" cy="285.6" r="2.9"/>
<circle cx="1194.1" cy="288.1" r="2.9"/>
<circle cx="1225.3" cy="239.6" r="2.9"/>
<circle cx="883.9" cy="503.6" r="2.9"/>
<circle cx="1080" cy="439.7" r="2.9"/>
<circle cx="1151.2" cy="291" r="2.9"/>
</g>
<g fill="#7cb3d4">
<circle cx="1193.1" cy="293" r="2.9"/>
<circle cx="1205.4" cy="249.3" r="2.9"/>
<circle cx="1233.9" cy="260.6" r="2.9"/>
<circle cx="962.9" cy="445.8" r="2.9"/>
<circle cx="1203.5" cy="265.5" r="2.9"/>
<circle cx="883.1" cy="497.4" r="2.9"/>
<circle cx="1205.4" cy="264.4" r="2.9"/>
<circle cx="1204.7" cy="262.8" r="2.9"/>
<circle cx="908.8" cy="461.7" r="2.9"/>
<circle cx="1177.1" cy="285" r="2.9"/>
<circle cx="1008.5" cy="496.2" r="2.9"/>
<circle cx="1216.9" cy="245.9" r="2.9"/>
<circle cx="1228.3" cy="245.9" r="2.9"/>
<circle cx="1231.8" cy="253.2" r="2.9"/>
<circle cx="1222.5" cy="262.3" r="2.9"/>
</g>
<g fill="#84bad8">
<circle cx="1214.1" cy="263.1" r="2.9"/>
<circle cx="1119.9" cy="398.1" r="2.9"/>
<circle cx="1177.3" cy="286.6" r="2.9"/>
<circle cx="1211.2" cy="254.1" r="2.9"/>
<circle cx="920.5" cy="459.8" r="2.9"/>
<circle cx="1222.5" cy="249.3" r="2.9"/>
<circle cx="1003.1" cy="498" r="2.9"/>
<circle cx="1144.1" cy="372.1" r="2.9"/>
<circle cx="1219.7" cy="251.5" r="2.9"/>
<circle cx="1047.3" cy="371.7" r="2.9"/>
<circle cx="1181.1" cy="314.6" r="2.9"/>
</g>
<g fill="#8cc0db">
<circle cx="1117.1" cy="399.8" r="2.9"/>
<circle cx="1183.6" cy="306.8" r="2.9"/>
<circle cx="1074" cy="442.8" r="2.9"/>
<circle cx="1105.7" cy="411.7" r="2.9"/>
<circle cx="889.2" cy="506.5" r="2.9"/>
<circle cx="1177.7" cy="291.1" r="2.9"/>
<circle cx="1166.1" cy="291.3" r="2.9"/>
<circle cx="887.8" cy="502.6" r="2.9"/>
<circle cx="1096.9" cy="418.6" r="2.9"/>
</g>
<g fill="#93c6df">
<circle cx="1014.3" cy="399.2" r="2.9"/>
<circle cx="1182" cy="300.8" r="2.9"/>
<circle cx="1054.4" cy="465" r="2.9"/>
<circle cx="1180" cy="298.6" r="2.9"/>
<circle cx="1122.7" cy="311.9" r="2.9"/>
<circle cx="1179.4" cy="308.6" r="2.9"/>
<circle cx="1161.9" cy="294.2" r="2.9"/>
<circle cx="1065.6" cy="356.9" r="2.9"/>
</g>
<g fill="#9bcce2">
<circle cx="1011.3" cy="489.8" r="2.9"/>
<circle cx="934.7" cy="460.7" r="2.9"/>
<circle cx="1039.5" cy="473.4" r="2.9"/>
<circle cx="889.8" cy="502.2" r="2.9"/>
<circle cx="1165.5" cy="338.8" r="2.9"/>
<circle cx="983.2" cy="427.7" r="2.9"/>
<circle cx="1083.4" cy="426.9" r="2.9"/>
</g>
<g fill="#a3d3e6">
<circle cx="1174.2" cy="299.1" r="2.9"/>
<circle cx="931.9" cy="462.6" r="2.9"/>
<circle cx="1069.8" cy="354.8" r="2.9"/>
<circle cx="900" cy="476.9" r="2.9"/>
<circle cx="1150.9" cy="300.7" r="2.9"/>
<circle cx="892.8" cy="504.5" r="2.9"/>
<circle cx="1091.3" cy="334.9" r="2.9"/>
<circle cx="1167.6" cy="298.3" r="2.9"/>
<circle cx="1065.6" cy="448.4" r="2.9"/>
<circle cx="988.6" cy="503.6" r="2.9"/>
</g>
<g fill="#abd9e9">
<circle cx="1054.4" cy="460.7" r="2.9"/>
<circle cx="911.6" cy="470.4" r="2.9"/>
<circle cx="1130.3" cy="310.8" r="2.9"/>
<circle cx="1122" cy="315.2" r="2.9"/>
<circle cx="1125.6" cy="384.5" r="2.9"/>
<circle cx="1062.8" cy="451" r="2.9"/>
<circle cx="1145.6" cy="364.7" r="2.9"/>
</g>
<g fill="#b3ddeb">
<circle cx="893.2" cy="500" r="2.9"/>
<circle cx="1130.8" cy="379" r="2.9"/>
<circle cx="1095.6" cy="413.8" r="2.9"/>
<circle cx="999.6" cy="413.6" r="2.9"/>
<circle cx="1031.3" cy="392.3" r="2.9"/>
<circle cx="898.6" cy="506.8" r="2.9"/>
<circle cx="1071.2" cy="356.1" r="2.9"/>
<circle cx="1156.8" cy="302.9" r="2.9"/>
<circle cx="1169.1" cy="307.5" r="2.9"/>
<circle cx="895.6" cy="503" r="2.9"/>
<circle cx="1158.1" cy="303.1" r="2.9"/>
<circle cx="1168.7" cy="319" r="2.9"/>
<circle cx="1105.1" cy="404.3" r="2.9"/>
</g>
<g fill="#bae0ed">
<circle cx="904" cy="477.9" r="2.9"/>
<circle cx="1001.7" cy="490" r="2.9"/>
<circle cx="1085.2" cy="421" r="2.9"/>
<circle cx="983.2" cy="432.6" r="2.9"/>
<circle cx="1155" cy="305.1" r="2.9"/>
<circle cx="940.3" cy="464.5" r="2.9"/>
</g>
<g fill="#c2e4ef">
<circle cx="1165.7" cy="309.4" r="2.9"/>
<circle cx="1012.3" cy="482.5" r="2.9"/>
<circle cx="1165.8" cy="313" r="2.9"/>
<circle cx="919.3" cy="511" r="2.9"/>
<circle cx="1165.6" cy="319.6" r="2.9"/>
<circle cx="896.4" cy="496" r="2.9"/>
</g>
<g fill="#c9e8f2">
<circle cx="923.3" cy="471" r="2.9"/>
<circle cx="1104.7" cy="402" r="2.9"/>
<circle cx="903.2" cy="505.3" r="2.9"/>
<circle cx="1053.6" cy="375.2" r="2.9"/>
<circle cx="1158.5" cy="309.7" r="2.9"/>
<circle cx="1162.4" cy="312.8" r="2.9"/>
<circle cx="983.2" cy="503.1" r="2.9"/>
<circle cx="898.5" cy="498.4" r="2.9"/>
<circle cx="908.8" cy="479" r="2.9"/>
</g>
<g fill="#d1ecf4">
<circle cx="1161.8" cy="313.9" r="2.9"/>
<circle cx="908" cy="506.1" r="2.9"/>
<circle cx="1081.5" cy="420" r="2.9"/>
<circle cx="901.6" cy="501.7" r="2.9"/>
<circle cx="904.5" cy="504.1" r="2.9"/>
<circle cx="1073.9" cy="426.8" r="2.9"/>
<circle cx="1161.6" cy="322.1" r="2.9"/>
</g>
<g fill="#d8eff6">
<circle cx="900.1" cy="493.2" r="2.9"/>
<circle cx="900.3" cy="494.3" r="2.9"/>
<circle cx="1051.6" cy="455.3" r="2.9"/>
<circle cx="1150.4" cy="312" r="2.9"/>
<circle cx="931.9" cy="470.4" r="2.9"/>
<circle cx="900.9" cy="492.2" r="2.9"/>
<circle cx="1158.7" cy="315.9" r="2.9"/>
<circle cx="906.4" cy="503.5" r="2.9"/>
<circle cx="1052.2" cy="453.9" r="2.9"/>
</g>
<g fill="#e0f3f8">
<circle cx="945.9" cy="466.7" r="2.9"/>
<circle cx="911.6" cy="480.7" r="2.9"/>
<circle cx="914.6" cy="479" r="2.9"/>
<circle cx="1158.6" cy="328.1" r="2.9"/>
<circle cx="1099.3" cy="403.1" r="2.9"/>
</g>
<g fill="#e4f0e9">
<circle cx="903.9" cy="491.3" r="2.9"/>
<circle cx="903.6" cy="493" r="2.9"/>
<circle cx="1018.2" cy="474.4" r="2.9"/>
<circle cx="1054.4" cy="449.9" r="2.9"/>
<circle cx="978.4" cy="503.9" r="2.9"/>
</g>
<g fill="#e9eeda">
<circle cx="1044.8" cy="457.9" r="2.9"/>
<circle cx="1155.8" cy="325.1" r="2.9"/>
<circle cx="998.1" cy="422.7" r="2.9"/>
</g>
<g fill="#edebcb">
<circle cx="910.5" cy="499.7" r="2.9"/>
<circle cx="1148.6" cy="348.7" r="2.9"/>
<circle cx="1046.7" cy="455.1" r="2.9"/>
<circle cx="1091.7" cy="344.9" r="2.9"/>
<circle cx="918.7" cy="503.7" r="2.9"/>
<circle cx="995.2" cy="426.7" r="2.9"/>
<circle cx="989.4" cy="434.6" r="2.9"/>
</g>
<g fill="#f1e8bd">
<circle cx="1078.1" cy="359.2" r="2.9"/>
<circle cx="987.7" cy="490.6" r="2.9"/>
<circle cx="1148.6" cy="320.3" r="2.9"/>
<circle cx="910.3" cy="493" r="2.9"/>
<circle cx="1072.5" cy="421" r="2.9"/>
<circle cx="1153.1" cy="329.5" r="2.9"/>
<circle cx="1065.8" cy="428.8" r="2.9"/>
<circle cx="1152.6" cy="328.5" r="2.9"/>
</g>
<g fill="#f5e5ae">
<circle cx="1152.3" cy="332.3" r="2.9"/>
<circle cx="913.8" cy="490.2" r="2.9"/>
<circle cx="969.3" cy="465.8" r="2.9"/>
</g>
<g fill="#fae39f">
<circle cx="913.9" cy="493.7" r="2.9"/>
<circle cx="963.6" cy="467.5" r="2.9"/>
<circle cx="916.9" cy="487.7" r="2.9"/>
<circle cx="1138.6" cy="321.8" r="2.9"/>
<circle cx="1150.6" cy="330" r="2.9"/>
<circle cx="1150.5" cy="335.7" r="2.9"/>
<circle cx="915.4" cy="494.7" r="2.9"/>
<circle cx="923.5" cy="502.2" r="2.9"/>
<circle cx="1006.4" cy="474.2" r="2.9"/>
</g>
<g fill="#fee090">
<circle cx="920.1" cy="499.6" r="2.9"/>
<circle cx="1150.2" cy="332.7" r="2.9"/>
<circle cx="920.2" cy="499.5" r="2.9"/>
<circle cx="1148.3" cy="342.3" r="2.9"/>
<circle cx="917.3" cy="494.4" r="2.9"/>
<circle cx="991.6" cy="480.3" r="2.9"/>
<circle cx="1145.2" cy="324.7" r="2.9"/>
<circle cx="1149" cy="329.8" r="2.9"/>
</g>
<g fill="#fed989">
<circle cx="918.3" cy="492.8" r="2.9"/>
<circle cx="982.8" cy="491.5" r="2.9"/>
<circle cx="1020.3" cy="467.5" r="2.9"/>
<circle cx="1071" cy="369.3" r="2.9"/>
<circle cx="1136.3" cy="324" r="2.9"/>
<circle cx="920.8" cy="488.5" r="2.9"/>
<circle cx="981.5" cy="460.6" r="2.9"/>
<circle cx="987.8" cy="482.6" r="2.9"/>
<circle cx="1014.1" cy="414.2" r="2.9"/>
<circle cx="1147.5" cy="340.9" r="2.9"/>
<circle cx="1060.8" cy="378.9" r="2.9"/>
<circle cx="984.1" cy="455.4" r="2.9"/>
</g>
<g fill="#fed283">
<circle cx="1139.6" cy="324.8" r="2.9"/>
<circle cx="942.7" cy="474.4" r="2.9"/>
<circle cx="1137.6" cy="324.7" r="2.9"/>
<circle cx="985.9" cy="451.2" r="2.9"/>
<circle cx="1093.7" cy="399.1" r="2.9"/>
<circle cx="1142.9" cy="326.5" r="2.9"/>
<circle cx="924.1" cy="498.4" r="2.9"/>
</g>
<g fill="#fecb7c">
<circle cx="926" cy="499.4" r="2.9"/>
<circle cx="1139.6" cy="355.4" r="2.9"/>
<circle cx="1040.8" cy="454" r="2.9"/>
<circle cx="1121.3" cy="329.1" r="2.9"/>
</g>
<g fill="#fdc375">
<circle cx="967.6" cy="504.6" r="2.9"/>
<circle cx="985.7" cy="458.1" r="2.9"/>
<circle cx="1052.6" cy="440.4" r="2.9"/>
<circle cx="1055.6" cy="435.7" r="2.9"/>
<circle cx="986.6" cy="476.9" r="2.9"/>
<circle cx="1141.7" cy="328.7" r="2.9"/>
<circle cx="979" cy="470" r="2.9"/>
<circle cx="983.6" cy="467.1" r="2.9"/>
<circle cx="1004.5" cy="423.8" r="2.9"/>
<circle cx="1142.7" cy="330.4" r="2.9"/>
<circle cx="984.3" cy="477.3" r="2.9"/>
<circle cx="984.7" cy="467.3" r="2.9"/>
</g>
<g fill="#fdbc6e">
<circle cx="987.8" cy="472.2" r="2.9"/>
<circle cx="982.5" cy="482.5" r="2.9"/>
<circle cx="953.9" cy="473.5" r="2.9"/>
<circle cx="1037.2" cy="403.3" r="2.9"/>
<circle cx="987.9" cy="471.4" r="2.9"/>
<circle cx="1143.7" cy="333.4" r="2.9"/>
<circle cx="1135.7" cy="358.6" r="2.9"/>
<circle cx="988.1" cy="469.9" r="2.9"/>
<circle cx="1056.7" cy="387.9" r="2.9"/>
<circle cx="980.4" cy="474.4" r="2.9"/>
<circle cx="928.1" cy="496" r="2.9"/>
<circle cx="980.9" cy="476.5" r="2.9"/>
</g>
<g fill="#fdb568">
<circle cx="1083.9" cy="403.2" r="2.9"/>
<circle cx="1009.9" cy="467.6" r="2.9"/>
<circle cx="980.7" cy="480.9" r="2.9"/>
<circle cx="988.4" cy="463.4" r="2.9"/>
<circle cx="1093.2" cy="352.5" r="2.9"/>
<circle cx="933.4" cy="500.7" r="2.9"/>
<circle cx="928.3" cy="493.5" r="2.9"/>
<circle cx="978" cy="476.5" r="2.9"/>
<circle cx="1049.9" cy="396.3" r="2.9"/>
<circle cx="977.6" cy="476.2" r="2.9"/>
<circle cx="1102.1" cy="385.6" r="2.9"/>
</g>
<g fill="#fdae61">
<circle cx="935.8" cy="501.5" r="2.9"/>
<circle cx="991.3" cy="448.9" r="2.9"/>
<circle cx="930.1" cy="490.5" r="2.9"/>
<circle cx="1053.3" cy="394.3" r="2.9"/>
</g>
<g fill="#fca55d">
<circle cx="1011" cy="465.8" r="2.9"/>
<circle cx="1097.5" cy="389" r="2.9"/>
<circle cx="1055.7" cy="429.8" r="2.9"/>
<circle cx="1077.4" cy="370.4" r="2.9"/>
<circle cx="935.6" cy="500.2" r="2.9"/>
<circle cx="1003.9" cy="466.6" r="2.9"/>
<circle cx="992.7" cy="446.7" r="2.9"/>
</g>
<g fill="#fa9b58">
<circle cx="1137.7" cy="350.8" r="2.9"/>
<circle cx="1074.6" cy="406.5" r="2.9"/>
<circle cx="1006.4" cy="465.7" r="2.9"/>
<circle cx="975.4" cy="480.7" r="2.9"/>
<circle cx="1103.5" cy="381.5" r="2.9"/>
<circle cx="1138.7" cy="335.6" r="2.9"/>
<circle cx="969" cy="499.3" r="2.9"/>
<circle cx="994.3" cy="462.8" r="2.9"/>
<circle cx="1138.6" cy="335.7" r="2.9"/>
<circle cx="962.1" cy="476.1" r="2.9"/>
<circle cx="968.4" cy="499.6" r="2.9"/>
<circle cx="1096" cy="352.5" r="2.9"/>
<circle cx="1033.8" cy="408.8" r="2.9"/>
<circle cx="1093.5" cy="390.8" r="2.9"/>
<circle cx="998" cy="464.3" r="2.9"/>
<circle cx="933.5" cy="489.4" r="2.9"/>
<circle cx="1039.7" cy="406.2" r="2.9"/>
</g>
<g fill="#f99254">
<circle cx="959.7" cy="476.4" r="2.9"/>
<circle cx="1034.1" cy="408.9" r="2.9"/>
<circle cx="933.6" cy="493.1" r="2.9"/>
<circle cx="1132.3" cy="332.8" r="2.9"/>
<circle cx="956" cy="504.3" r="2.9"/>
<circle cx="1054.9" cy="396.8" r="2.9"/>
<circle cx="1110.4" cy="374.8" r="2.9"/>
<circle cx="1062.8" cy="413.6" r="2.9"/>
<circle cx="1057.2" cy="394.6" r="2.9"/>
<circle cx="941.8" cy="482.1" r="2.9"/>
</g>
<g fill="#f88950">
<circle cx="994" cy="455.7" r="2.9"/>
<circle cx="1107.2" cy="376.6" r="2.9"/>
<circle cx="971.3" cy="494.4" r="2.9"/>
<circle cx="973.7" cy="486" r="2.9"/>
<circle cx="1110.4" cy="339.8" r="2.9"/>
<circle cx="965.6" cy="500.2" r="2.9"/>
<circle cx="1079.8" cy="400.3" r="2.9"/>
<circle cx="1068.4" cy="407.6" r="2.9"/>
<circle cx="1058.3" cy="394.2" r="2.9"/>
<circle cx="935.8" cy="489.3" r="2.9"/>
<circle cx="995.6" cy="444.9" r="2.9"/>
<circle cx="1069.8" cy="380.8" r="2.9"/>
</g>
<g fill="#f7804c">
<circle cx="1068.9" cy="382.2" r="2.9"/>
<circle cx="1028.8" cy="455.6" r="2.9"/>
<circle cx="1056" cy="421.8" r="2.9"/>
<circle cx="995.7" cy="457.3" r="2.9"/>
<circle cx="1121.5" cy="335.1" r="2.9"/>
<circle cx="1128.3" cy="334.3" r="2.9"/>
<circle cx="1068.5" cy="383" r="2.9"/>
<circle cx="1071.2" cy="404.4" r="2.9"/>
<circle cx="1028.5" cy="413.3" r="2.9"/>
<circle cx="1056.5" cy="398.4" r="2.9"/>
<circle cx="1136.8" cy="343.5" r="2.9"/>
<circle cx="963.5" cy="500.5" r="2.9"/>
<circle cx="963.4" cy="500.5" r="2.9"/>
<circle cx="1080" cy="373.6" r="2.9"/>
<circle cx="998.1" cy="440.7" r="2.9"/>
<circle cx="997.5" cy="458.8" r="2.9"/>
<circle cx="1055.5" cy="400.6" r="2.9"/>
<circle cx="941.8" cy="499.5" r="2.9"/>
<circle cx="1085.1" cy="370.1" r="2.9"/>
<circle cx="1063" cy="391" r="2.9"/>
</g>
<g fill="#f57647">
<circle cx="1075.1" cy="377.8" r="2.9"/>
<circle cx="965.8" cy="498.5" r="2.9"/>
<circle cx="996.4" cy="446.1" r="2.9"/>
<circle cx="1044" cy="407.4" r="2.9"/>
<circle cx="999.6" cy="460.2" r="2.9"/>
<circle cx="965.9" cy="480" r="2.9"/>
<circle cx="947" cy="501.8" r="2.9"/>
<circle cx="1002.3" cy="461.3" r="2.9"/>
<circle cx="937.6" cy="493.4" r="2.9"/>
<circle cx="1072" cy="380.9" r="2.9"/>
<circle cx="1133.8" cy="337.4" r="2.9"/>
<circle cx="1063.8" cy="407.5" r="2.9"/>
<circle cx="1095.9" cy="383.2" r="2.9"/>
<circle cx="1065.9" cy="405.6" r="2.9"/>
<circle cx="1098.5" cy="380.3" r="2.9"/>
<circle cx="1083.1" cy="395.1" r="2.9"/>
<circle cx="1061.8" cy="408.2" r="2.9"/>
<circle cx="1062.7" cy="406.7" r="2.9"/>
<circle cx="1132.2" cy="337.2" r="2.9"/>
<circle cx="1033.9" cy="412.1" r="2.9"/>
<circle cx="1107.4" cy="373.6" r="2.9"/>
<circle cx="1028.6" cy="414.4" r="2.9"/>
</g>
<g fill="#f46d43">
<circle cx="1075.2" cy="379.2" r="2.9"/>
<circle cx="1051.6" cy="427" r="2.9"/>
<circle cx="1043.8" cy="440.8" r="2.9"/>
<circle cx="1093.5" cy="384.3" r="2.9"/>
<circle cx="997.8" cy="456" r="2.9"/>
<circle cx="1090.6" cy="387.5" r="2.9"/>
<circle cx="959.5" cy="501" r="2.9"/>
<circle cx="969.4" cy="492.2" r="2.9"/>
<circle cx="1128.4" cy="358.6" r="2.9"/>
<circle cx="1066.5" cy="403.5" r="2.9"/>
<circle cx="1134.7" cy="341.7" r="2.9"/>
<circle cx="1094.9" cy="360.5" r="2.9"/>
<circle cx="1049.9" cy="406.9" r="2.9"/>
<circle cx="1049" cy="431.9" r="2.9"/>
<circle cx="1134.7" cy="342.2" r="2.9"/>
<circle cx="969.2" cy="484.9" r="2.9"/>
<circle cx="1133.2" cy="339.2" r="2.9"/>
<circle cx="998.4" cy="443.6" r="2.9"/>
<circle cx="959.8" cy="500.6" r="2.9"/>
<circle cx="1063.9" cy="403.6" r="2.9"/>
<circle cx="1052.8" cy="406.6" r="2.9"/>
<circle cx="947.5" cy="482.6" r="2.9"/>
<circle cx="1049.6" cy="407.6" r="2.9"/>
<circle cx="1097.2" cy="357.4" r="2.9"/>
<circle cx="952" cy="501.5" r="2.9"/>
<circle cx="1073.3" cy="382.1" r="2.9"/>
<circle cx="941.4" cy="487.3" r="2.9"/>
<circle cx="1053.6" cy="407.6" r="2.9"/>
<circle cx="1082.4" cy="393.7" r="2.9"/>
<circle cx="1064.7" cy="394" r="2.9"/>
</g>
<g fill="#f0643f">
<circle cx="1055.1" cy="408.7" r="2.9"/>
<circle cx="1085.8" cy="390.6" r="2.9"/>
<circle cx="1050.7" cy="408.4" r="2.9"/>
<circle cx="1050.2" cy="427.7" r="2.9"/>
<circle cx="1124.7" cy="337.1" r="2.9"/>
<circle cx="1050.9" cy="425.8" r="2.9"/>
<circle cx="1091" cy="384.7" r="2.9"/>
<circle cx="1132.7" cy="350.2" r="2.9"/>
<circle cx="1071.2" cy="399.1" r="2.9"/>
<circle cx="1035.6" cy="412.7" r="2.9"/>
<circle cx="1054.4" cy="413.5" r="2.9"/>
<circle cx="1095.5" cy="379.4" r="2.9"/>
<circle cx="1064.9" cy="397.4" r="2.9"/>
<circle cx="1075.4" cy="381.2" r="2.9"/>
<circle cx="1073.4" cy="383.3" r="2.9"/>
<circle cx="1052.9" cy="410.3" r="2.9"/>
<circle cx="966.7" cy="484" r="2.9"/>
<circle cx="968" cy="490.9" r="2.9"/>
<circle cx="1068.9" cy="389.5" r="2.9"/>
<circle cx="1088.8" cy="385.9" r="2.9"/>
<circle cx="1000.9" cy="456.6" r="2.9"/>
<circle cx="945.3" cy="498.3" r="2.9"/>
</g>
<g fill="#ec5c3b">
<circle cx="1122.9" cy="338" r="2.9"/>
<circle cx="1001" cy="456.5" r="2.9"/>
<circle cx="1083" cy="376.8" r="2.9"/>
<circle cx="1089.3" cy="384.7" r="2.9"/>
<circle cx="1003.1" cy="457.9" r="2.9"/>
<circle cx="1099.1" cy="356.8" r="2.9"/>
<circle cx="1004.6" cy="458.5" r="2.9"/>
<circle cx="1050.8" cy="411.4" r="2.9"/>
<circle cx="1087.8" cy="374" r="2.9"/>
<circle cx="1073.8" cy="384.2" r="2.9"/>
<circle cx="1097.9" cy="359.1" r="2.9"/>
<circle cx="941.6" cy="492.8" r="2.9"/>
<circle cx="1068.6" cy="395" r="2.9"/>
<circle cx="1068.8" cy="393.3" r="2.9"/>
<circle cx="1096.8" cy="361.6" r="2.9"/>
<circle cx="1051.4" cy="413.5" r="2.9"/>
<circle cx="1039.6" cy="443.3" r="2.9"/>
<circle cx="1051.4" cy="418.3" r="2.9"/>
<circle cx="1070.1" cy="394.3" r="2.9"/>
<circle cx="1084.6" cy="388.2" r="2.9"/>
<circle cx="1070.4" cy="393.7" r="2.9"/>
<circle cx="949" cy="499.1" r="2.9"/>
<circle cx="1090.7" cy="379.8" r="2.9"/>
<circle cx="1091.3" cy="373.8" r="2.9"/>
<circle cx="1072.7" cy="387.6" r="2.9"/>
<circle cx="1101.3" cy="372.5" r="2.9"/>
<circle cx="1118.7" cy="364.5" r="2.9"/>
<circle cx="1122.7" cy="338.9" r="2.9"/>
<circle cx="1096.7" cy="374.1" r="2.9"/>
<circle cx="1083.5" cy="378.8" r="2.9"/>
<circle cx="1091.6" cy="376.9" r="2.9"/>
<circle cx="1041.9" cy="412.6" r="2.9"/>
<circle cx="1096.5" cy="364.4" r="2.9"/>
<circle cx="1091.3" cy="376.7" r="2.9"/>
</g>
<g fill="#e85337">
<circle cx="1073.2" cy="393.5" r="2.9"/>
<circle cx="1078.1" cy="382.6" r="2.9"/>
<circle cx="1080.5" cy="390.6" r="2.9"/>
<circle cx="1127.5" cy="356.4" r="2.9"/>
<circle cx="1077.4" cy="383.6" r="2.9"/>
<circle cx="1011.3" cy="427.6" r="2.9"/>
<circle cx="1102.1" cy="371.6" r="2.9"/>
<circle cx="1110.4" cy="368.6" r="2.9"/>
<circle cx="1109.3" cy="345.4" r="2.9"/>
<circle cx="1032.7" cy="415.4" r="2.9"/>
<circle cx="1050.1" cy="416.1" r="2.9"/>
<circle cx="1078" cy="391.1" r="2.9"/>
<circle cx="961.2" cy="497.1" r="2.9"/>
<circle cx="959.7" cy="497.9" r="2.9"/>
<circle cx="1002.8" cy="455.7" r="2.9"/>
<circle cx="1109.8" cy="345.3" r="2.9"/>
<circle cx="1078.9" cy="389.9" r="2.9"/>
<circle cx="1039.8" cy="413.8" r="2.9"/>
<circle cx="1112.7" cy="343.4" r="2.9"/>
<circle cx="1031.9" cy="449.3" r="2.9"/>
<circle cx="1076.1" cy="388.6" r="2.9"/>
<circle cx="963.7" cy="485.4" r="2.9"/>
<circle cx="947.1" cy="497" r="2.9"/>
<circle cx="1078.5" cy="385.9" r="2.9"/>
<circle cx="1124.5" cy="339.8" r="2.9"/>
<circle cx="944.8" cy="494.6" r="2.9"/>
<circle cx="1080.7" cy="386.3" r="2.9"/>
<circle cx="1079.1" cy="386" r="2.9"/>
<circle cx="1079.6" cy="385.7" r="2.9"/>
<circle cx="1119.3" cy="363.1" r="2.9"/>
</g>
<g fill="#e34a33">
<circle cx="944.8" cy="489.7" r="2.9"/>
<circle cx="944.7" cy="493.9" r="2.9"/>
<circle cx="1120.4" cy="362.2" r="2.9"/>
<circle cx="951.4" cy="498.2" r="2.9"/>
<circle cx="1013.6" cy="426.5" r="2.9"/>
<circle cx="1126.1" cy="340.6" r="2.9"/>
<circle cx="1129.9" cy="344.4" r="2.9"/>
<circle cx="1002.6" cy="453.4" r="2.9"/>
<circle cx="958.9" cy="497.1" r="2.9"/>
<circle cx="1129.2" cy="351.1" r="2.9"/>
<circle cx="1030.5" cy="417.2" r="2.9"/>
<circle cx="945.5" cy="490" r="2.9"/>
<circle cx="1100.4" cy="367.7" r="2.9"/>
<circle cx="964" cy="490.2" r="2.9"/>
<circle cx="947" cy="495.2" r="2.9"/>
<circle cx="1007.3" cy="456.1" r="2.9"/>
<circle cx="1124" cy="341.1" r="2.9"/>
<circle cx="1012" cy="456.4" r="2.9"/>
<circle cx="952.1" cy="497.4" r="2.9"/>
</g>
<g fill="#df412f">
<circle cx="1023.5" cy="420.7" r="2.9"/>
<circle cx="1100.7" cy="361.8" r="2.9"/>
<circle cx="1100.8" cy="361.5" r="2.9"/>
<circle cx="946.4" cy="492.4" r="2.9"/>
<circle cx="948.6" cy="495.6" r="2.9"/>
<circle cx="1002.6" cy="442.9" r="2.9"/>
<circle cx="1007.4" cy="433.8" r="2.9"/>
<circle cx="962.6" cy="492.2" r="2.9"/>
<circle cx="1128.8" cy="345.1" r="2.9"/>
<circle cx="947.8" cy="488.8" r="2.9"/>
<circle cx="1016" cy="425.6" r="2.9"/>
<circle cx="948.5" cy="488.2" r="2.9"/>
<circle cx="1021.4" cy="453.8" r="2.9"/>
<circle cx="1101.5" cy="361.8" r="2.9"/>
<circle cx="1036.5" cy="416.6" r="2.9"/>
<circle cx="947.6" cy="493.6" r="2.9"/>
<circle cx="1103.3" cy="356.5" r="2.9"/>
<circle cx="1045.9" cy="419.9" r="2.9"/>
<circle cx="1109.4" cy="365.9" r="2.9"/>
<circle cx="958.5" cy="495.5" r="2.9"/>
<circle cx="961.1" cy="487.6" r="2.9"/>
<circle cx="960.7" cy="493.8" r="2.9"/>
<circle cx="1009.9" cy="455.5" r="2.9"/>
<circle cx="954.5" cy="486.2" r="2.9"/>
<circle cx="1045.8" cy="424.6" r="2.9"/>
<circle cx="1102.9" cy="358.7" r="2.9"/>
</g>
<g fill="#db392b">
<circle cx="1127.4" cy="351.2" r="2.9"/>
<circle cx="1006.4" cy="436.1" r="2.9"/>
<circle cx="948.5" cy="493.1" r="2.9"/>
<circle cx="1122.8" cy="342.5" r="2.9"/>
<circle cx="959.6" cy="493.6" r="2.9"/>
<circle cx="1004.1" cy="451.5" r="2.9"/>
<circle cx="1106.3" cy="352.6" r="2.9"/>
<circle cx="1109.3" cy="348.9" r="2.9"/>
<circle cx="1104.9" cy="355.1" r="2.9"/>
<circle cx="950.9" cy="494.8" r="2.9"/>
<circle cx="960.5" cy="491.9" r="2.9"/>
<circle cx="1121.6" cy="342.8" r="2.9"/>
<circle cx="1044.1" cy="419.6" r="2.9"/>
<circle cx="960.5" cy="491.4" r="2.9"/>
<circle cx="1044.4" cy="428.2" r="2.9"/>
<circle cx="1043.7" cy="430.4" r="2.9"/>
<circle cx="1003.3" cy="445.9" r="2.9"/>
<circle cx="952.2" cy="488.1" r="2.9"/>
<circle cx="953.2" cy="495" r="2.9"/>
<circle cx="960" cy="490.9" r="2.9"/>
<circle cx="1004.3" cy="441.4" r="2.9"/>
<circle cx="952.9" cy="494.8" r="2.9"/>
<circle cx="1040.7" cy="418.1" r="2.9"/>
<circle cx="1125.4" cy="344.2" r="2.9"/>
<circle cx="958.9" cy="492.6" r="2.9"/>
</g>
<g fill="#d73027">
<circle cx="1028.9" cy="448.6" r="2.9"/>
<circle cx="958.5" cy="491.6" r="2.9"/>
<circle cx="958.4" cy="490.9" r="2.9"/>
<circle cx="1022.9" cy="451.8" r="2.9"/>
<circle cx="1037.9" cy="439.9" r="2.9"/>
<circle cx="957.9" cy="490.4" r="2.9"/>
<circle cx="1022.3" cy="423.1" r="2.9"/>
<circle cx="1126.1" cy="350.1" r="2.9"/>
<circle cx="1105.8" cy="356" r="2.9"/>
<circle cx="1125.7" cy="346.5" r="2.9"/>
<circle cx="954.7" cy="492.9" r="2.9"/>
<circle cx="1113.8" cy="346.7" r="2.9"/>
<circle cx="1118.6" cy="344.6" r="2.9"/>
<circle cx="1039.1" cy="437.8" r="2.9"/>
<circle cx="954.2" cy="491.8" r="2.9"/>
<circle cx="955.6" cy="490.8" r="2.9"/>
<circle cx="955.7" cy="491.4" r="2.9"/>
<circle cx="1020.5" cy="424.5" r="2.9"/>
<circle cx="1042" cy="420.9" r="2.9"/>
<circle cx="1004.7" cy="443.9" r="2.9"/>
<circle cx="1007.8" cy="436.2" r="2.9"/>
<circle cx="1125" cy="350.9" r="2.9"/>
<circle cx="1114.3" cy="361.2" r="2.9"/>
</g>
<g fill="#d02927">
<circle cx="1020.2" cy="425" r="2.9"/>
<circle cx="1038.6" cy="437.6" r="2.9"/>
<circle cx="1118.8" cy="345.7" r="2.9"/>
<circle cx="1021.1" cy="451.6" r="2.9"/>
<circle cx="1031.6" cy="420.5" r="2.9"/>
<circle cx="1036.6" cy="440" r="2.9"/>
<circle cx="1123.9" cy="351.4" r="2.9"/>
<circle cx="1038.9" cy="420.6" r="2.9"/>
<circle cx="1119.6" cy="345.9" r="2.9"/>
<circle cx="1123.9" cy="351.3" r="2.9"/>
<circle cx="1042" cy="425.2" r="2.9"/>
<circle cx="1021.1" cy="451.2" r="2.9"/>
<circle cx="1113.2" cy="360.4" r="2.9"/>
<circle cx="1109" cy="354.8" r="2.9"/>
</g>
<g fill="#c92227">
<circle cx="1109.2" cy="358.8" r="2.9"/>
<circle cx="1029.1" cy="421.8" r="2.9"/>
<circle cx="1111.6" cy="359.8" r="2.9"/>
<circle cx="1112" cy="350.8" r="2.9"/>
<circle cx="1112.2" cy="350.7" r="2.9"/>
<circle cx="1114.8" cy="359" r="2.9"/>
<circle cx="1122.2" cy="351.5" r="2.9"/>
<circle cx="1117.5" cy="357.3" r="2.9"/>
<circle cx="1115.1" cy="358.5" r="2.9"/>
<circle cx="1121.5" cy="352.8" r="2.9"/>
<circle cx="1030" cy="445.4" r="2.9"/>
<circle cx="1026.6" cy="423.2" r="2.9"/>
<circle cx="1110.9" cy="354.7" r="2.9"/>
<circle cx="1030.6" cy="422.2" r="2.9"/>
<circle cx="1116.7" cy="357" r="2.9"/>
<circle cx="1121.3" cy="350.6" r="2.9"/>
<circle cx="1007.4" cy="447.7" r="2.9"/>
<circle cx="1113.3" cy="357.6" r="2.9"/>
<circle cx="1115.4" cy="357.1" r="2.9"/>
<circle cx="1113.5" cy="351.8" r="2.9"/>
</g>
<g fill="#c21b27">
<circle cx="1037.4" cy="436.1" r="2.9"/>
<circle cx="1112.3" cy="354" r="2.9"/>
<circle cx="1114.2" cy="356.8" r="2.9"/>
<circle cx="1114.2" cy="356.7" r="2.9"/>
<circle cx="1032.6" cy="442.3" r="2.9"/>
<circle cx="1015.8" cy="450.9" r="2.9"/>
<circle cx="1115.7" cy="355.4" r="2.9"/>
<circle cx="1117.4" cy="354.3" r="2.9"/>
<circle cx="1024.7" cy="448" r="2.9"/>
<circle cx="1009.7" cy="437.8" r="2.9"/>
<circle cx="1038.1" cy="433" r="2.9"/>
</g>
<g fill="#ba1526">
<circle cx="1010.4" cy="437.8" r="2.9"/>
<circle cx="1010.4" cy="447.3" r="2.9"/>
<circle cx="1037.3" cy="428.7" r="2.9"/>
<circle cx="1017.5" cy="449.2" r="2.9"/>
<circle cx="1011.9" cy="436.4" r="2.9"/>
</g>
<g fill="#b30e26">
<circle cx="1036.5" cy="432.5" r="2.9"/>
<circle cx="1019" cy="448.4" r="2.9"/>
<circle cx="1025.6" cy="426.3" r="2.9"/>
<circle cx="1013.3" cy="435.3" r="2.9"/>
<circle cx="1028.5" cy="443.4" r="2.9"/>
<circle cx="1021.4" cy="447.4" r="2.9"/>
<circle cx="1022.9" cy="427.8" r="2.9"/>
<circle cx="1024.9" cy="427.2" r="2.9"/>
<circle cx="1013.9" cy="435.7" r="2.9"/>
<circle cx="1023.3" cy="428.2" r="2.9"/>
</g>
<g fill="#ac0726">
<circle cx="1017.5" cy="432.6" r="2.9"/>
<circle cx="1016.9" cy="433.4" r="2.9"/>
<circle cx="1015.7" cy="446.5" r="2.9"/>
<circle cx="1018.6" cy="446.5" r="2.9"/>
<circle cx="1033.7" cy="431.3" r="2.9"/>
<circle cx="1033.7" cy="432.5" r="2.9"/>
</g>
<g fill="#a50026">
<circle cx="1013.8" cy="444.4" r="2.9"/>
<circle cx="1017.5" cy="445.9" r="2.9"/>
<circle cx="1016.1" cy="435.4" r="2.9"/>
<circle cx="1032.6" cy="431.1" r="2.9"/>
<circle cx="1016.7" cy="445.4" r="2.9"/>
<circle cx="1023.5" cy="430.3" r="2.9"/>
<circle cx="1014.9" cy="443.8" r="2.9"/>
<circle cx="1030.6" cy="436.6" r="2.9"/>
<circle cx="1018.4" cy="444.4" r="2.9"/>
<circle cx="1028.8" cy="438.6" r="2.9"/>
<circle cx="1025.3" cy="438.5" r="2.9"/>
<circle cx="1016.1" cy="443.4" r="2.9"/>
<circle cx="1016.2" cy="440.6" r="2.9"/>
<circle cx="1027.4" cy="432.4" r="2.9"/>
<circle cx="1019.7" cy="436.5" r="2.9"/>
<circle cx="1025.8" cy="437.8" r="2.9"/>
<circle cx="1026" cy="440" r="2.9"/>
<circle cx="1018.9" cy="435.4" r="2.9"/>
<circle cx="1019.8" cy="442.8" r="2.9"/>
</g>
</g>
<path d="M878.4,566.8L1448.0,64.6" stroke="#ff0000" stroke-width="3.1" fill="none"/>
<rect x="878.4" y="64.6" width="569.6" height="502.19999999999993" fill="none" stroke="#141414" stroke-width="2.5"/>
<path d="M1007.9,566.8v-6.5M1007.9,64.6v6.5M1137.3,566.8v-6.5M1137.3,64.6v6.5M1266.8,566.8v-6.5M1266.8,64.6v6.5M1396.2,566.8v-6.5M1396.2,64.6v6.5M878.4,544h6.5M1448.0,544h-6.5M878.4,498.3h6.5M1448.0,498.3h-6.5M878.4,452.7h6.5M1448.0,452.7h-6.5M878.4,407h6.5M1448.0,407h-6.5M878.4,361.4h6.5M1448.0,361.4h-6.5M878.4,315.7h6.5M1448.0,315.7h-6.5M878.4,270h6.5M1448.0,270h-6.5M878.4,224.4h6.5M1448.0,224.4h-6.5M878.4,178.7h6.5M1448.0,178.7h-6.5M878.4,133.1h6.5M1448.0,133.1h-6.5M878.4,87.4h6.5M1448.0,87.4h-6.5" stroke="#141414" stroke-width="2.5" fill="none"/>
<g font-family='"Liberation Serif", "Times New Roman", serif' font-size="23.4" fill="#262626">
<text x="869.1999999999999" y="552.3" text-anchor="end">46</text>
<text x="869.1999999999999" y="506.6" text-anchor="end">48</text>
<text x="869.1999999999999" y="461" text-anchor="end">50</text>
<text x="869.1999999999999" y="415.3" text-anchor="end">52</text>
<text x="869.1999999999999" y="369.7" text-anchor="end">54</text>
<text x="869.1999999999999" y="324" text-anchor="end">56</text>
<text x="869.1999999999999" y="278.3" text-anchor="end">58</text>
<text x="869.1999999999999" y="232.7" text-anchor="end">60</text>
<text x="869.1999999999999" y="187" text-anchor="end">62</text>
<text x="869.1999999999999" y="141.4" text-anchor="end">64</text>
<text x="869.1999999999999" y="95.7" text-anchor="end">66</text>
<text x="878.4" y="597.3" text-anchor="middle">45</text>
<text x="1007.9" y="597.3" text-anchor="middle">50</text>
<text x="1137.3" y="597.3" text-anchor="middle">55</text>
<text x="1266.8" y="597.3" text-anchor="middle">60</text>
<text x="1396.2" y="597.3" text-anchor="middle">65</text>
<text x="1163.2" y="625.5" text-anchor="middle">Original CZ Distance (km)</text>
<text transform="translate(835.0,315.7) rotate(-90)" text-anchor="middle">MLP-RF CZ Distance (km)</text>
<text x="1504.4" y="575.1">0</text>
<text x="1504.4" y="524.9">0.1</text>
<text x="1504.4" y="474.7">0.2</text>
<text x="1504.4" y="424.4">0.3</text>
<text x="1504.4" y="374.2">0.4</text>
<text x="1504.4" y="324">0.5</text>
<text x="1504.4" y="273.8">0.6</text>
<text x="1504.4" y="223.6">0.7</text>
<text x="1504.4" y="173.3">0.8</text>
<text x="1504.4" y="123.1">0.9</text>
<text x="1504.4" y="72.9">1</text>
</g>
<rect x="1328.0" y="79.5" width="105.0" height="32.5" fill="#fff" stroke="#000" stroke-width="2.1"/>
<path d="M1334.0,95.8H1392.3" stroke="#ff0000" stroke-width="3.1"/>
<text x="1398.6" y="104.2" font-family='"Liberation Serif", "Times New Roman", serif' font-size="23.4" fill="#000">1:1</text>
<rect x="1464.2" y="559" width="31.59999999999991" height="8.4" fill="#313695"/>
<rect x="1464.2" y="551.1" width="31.59999999999991" height="8.4" fill="#343f99"/>
<rect x="1464.2" y="543.3" width="31.59999999999991" height="8.4" fill="#37489e"/>
<rect x="1464.2" y="535.4" width="31.59999999999991" height="8.4" fill="#3a51a2"/>
<rect x="1464.2" y="527.6" width="31.59999999999991" height="8.4" fill="#3c5aa7"/>
<rect x="1464.2" y="519.7" width="31.59999999999991" height="8.4" fill="#3f63ab"/>
<rect x="1464.2" y="511.9" width="31.59999999999991" height="8.4" fill="#426cb0"/>
<rect x="1464.2" y="504" width="31.59999999999991" height="8.4" fill="#4575b4"/>
<rect x="1464.2" y="496.2" width="31.59999999999991" height="8.4" fill="#4c7db8"/>
<rect x="1464.2" y="488.3" width="31.59999999999991" height="8.4" fill="#5285bc"/>
<rect x="1464.2" y="480.5" width="31.59999999999991" height="8.4" fill="#598dc0"/>
<rect x="1464.2" y="472.6" width="31.59999999999991" height="8.4" fill="#6095c5"/>
<rect x="1464.2" y="464.8" width="31.59999999999991" height="8.4" fill="#679dc9"/>
<rect x="1464.2" y="456.9" width="31.59999999999991" height="8.4" fill="#6da5cd"/>
<rect x="1464.2" y="449.1" width="31.59999999999991" height="8.4" fill="#74add1"/>
<rect x="1464.2" y="441.2" width="31.59999999999991" height="8.4" fill="#7cb3d4"/>
<rect x="1464.2" y="433.4" width="31.59999999999991" height="8.4" fill="#84bad8"/>
<rect x="1464.2" y="425.6" width="31.59999999999991" height="8.4" fill="#8cc0db"/>
<rect x="1464.2" y="417.7" width="31.59999999999991" height="8.4" fill="#93c6df"/>
<rect x="1464.2" y="409.9" width="31.59999999999991" height="8.4" fill="#9bcce2"/>
<rect x="1464.2" y="402" width="31.59999999999991" height="8.4" fill="#a3d3e6"/>
<rect x="1464.2" y="394.2" width="31.59999999999991" height="8.4" fill="#abd9e9"/>
<rect x="1464.2" y="386.3" width="31.59999999999991" height="8.4" fill="#b3ddeb"/>
<rect x="1464.2" y="378.5" width="31.59999999999991" height="8.4" fill="#bae0ed"/>
<rect x="1464.2" y="370.6" width="31.59999999999991" height="8.4" fill="#c2e4ef"/>
<rect x="1464.2" y="362.8" width="31.59999999999991" height="8.4" fill="#c9e8f2"/>
<rect x="1464.2" y="354.9" width="31.59999999999991" height="8.4" fill="#d1ecf4"/>
<rect x="1464.2" y="347.1" width="31.59999999999991" height="8.4" fill="#d8eff6"/>
<rect x="1464.2" y="339.2" width="31.59999999999991" height="8.4" fill="#e0f3f8"/>
<rect x="1464.2" y="331.4" width="31.59999999999991" height="8.4" fill="#e4f0e9"/>
<rect x="1464.2" y="323.5" width="31.59999999999991" height="8.4" fill="#e9eeda"/>
<rect x="1464.2" y="315.7" width="31.59999999999991" height="8.4" fill="#edebcb"/>
<rect x="1464.2" y="307.9" width="31.59999999999991" height="8.4" fill="#f1e8bd"/>
<rect x="1464.2" y="300" width="31.59999999999991" height="8.4" fill="#f5e5ae"/>
<rect x="1464.2" y="292.2" width="31.59999999999991" height="8.4" fill="#fae39f"/>
<rect x="1464.2" y="284.3" width="31.59999999999991" height="8.4" fill="#fee090"/>
<rect x="1464.2" y="276.5" width="31.59999999999991" height="8.4" fill="#fed989"/>
<rect x="1464.2" y="268.6" width="31.59999999999991" height="8.4" fill="#fed283"/>
<rect x="1464.2" y="260.8" width="31.59999999999991" height="8.4" fill="#fecb7c"/>
<rect x="1464.2" y="252.9" width="31.59999999999991" height="8.4" fill="#fdc375"/>
<rect x="1464.2" y="245.1" width="31.59999999999991" height="8.4" fill="#fdbc6e"/>
<rect x="1464.2" y="237.2" width="31.59999999999991" height="8.4" fill="#fdb568"/>
<rect x="1464.2" y="229.4" width="31.59999999999991" height="8.4" fill="#fdae61"/>
<rect x="1464.2" y="221.5" width="31.59999999999991" height="8.4" fill="#fca55d"/>
<rect x="1464.2" y="213.7" width="31.59999999999991" height="8.4" fill="#fa9b58"/>
<rect x="1464.2" y="205.8" width="31.59999999999991" height="8.4" fill="#f99254"/>
<rect x="1464.2" y="198" width="31.59999999999991" height="8.4" fill="#f88950"/>
<rect x="1464.2" y="190.1" width="31.59999999999991" height="8.4" fill="#f7804c"/>
<rect x="1464.2" y="182.3" width="31.59999999999991" height="8.4" fill="#f57647"/>
<rect x="1464.2" y="174.5" width="31.59999999999991" height="8.4" fill="#f46d43"/>
<rect x="1464.2" y="166.6" width="31.59999999999991" height="8.4" fill="#f0643f"/>
<rect x="1464.2" y="158.8" width="31.59999999999991" height="8.4" fill="#ec5c3b"/>
<rect x="1464.2" y="150.9" width="31.59999999999991" height="8.4" fill="#e85337"/>
<rect x="1464.2" y="143.1" width="31.59999999999991" height="8.4" fill="#e34a33"/>
<rect x="1464.2" y="135.2" width="31.59999999999991" height="8.4" fill="#df412f"/>
<rect x="1464.2" y="127.4" width="31.59999999999991" height="8.4" fill="#db392b"/>
<rect x="1464.2" y="119.5" width="31.59999999999991" height="8.4" fill="#d73027"/>
<rect x="1464.2" y="111.7" width="31.59999999999991" height="8.4" fill="#d02927"/>
<rect x="1464.2" y="103.8" width="31.59999999999991" height="8.4" fill="#c92227"/>
<rect x="1464.2" y="96" width="31.59999999999991" height="8.4" fill="#c21b27"/>
<rect x="1464.2" y="88.1" width="31.59999999999991" height="8.4" fill="#ba1526"/>
<rect x="1464.2" y="80.3" width="31.59999999999991" height="8.4" fill="#b30e26"/>
<rect x="1464.2" y="72.4" width="31.59999999999991" height="8.4" fill="#ac0726"/>
<rect x="1464.2" y="64.6" width="31.59999999999991" height="8.4" fill="#a50026"/>
<rect x="1464.2" y="64.6" width="31.59999999999991" height="502.19999999999993" fill="none" stroke="#3a3a3a" stroke-width="1.1"/>
<path d="M1495.8,516.6h-6M1495.8,466.4h-6M1495.8,416.1h-6M1495.8,365.9h-6M1495.8,315.7h-6M1495.8,265.5h-6M1495.8,215.3h-6M1495.8,165h-6M1495.8,114.8h-6" stroke="#3a3a3a" stroke-width="1.1" fill="none"/>
<clipPath id="cd"><rect x="874.9" y="705.5" width="567.6" height="509.5"/></clipPath>
<g clip-path="url(#cd)">
<g fill="#313695">
<circle cx="1420.9" cy="1022.6" r="2.9"/>
<circle cx="939.4" cy="1208.1" r="2.9"/>
<circle cx="896.3" cy="1170.4" r="2.9"/>
<circle cx="1346.7" cy="1000.4" r="2.9"/>
<circle cx="967.3" cy="830.5" r="2.9"/>
<circle cx="1164.7" cy="790.6" r="2.9"/>
<circle cx="939.4" cy="902.3" r="2.9"/>
<circle cx="1263.7" cy="1090.6" r="2.9"/>
<circle cx="1294.3" cy="1078.9" r="2.9"/>
<circle cx="964" cy="945.2" r="2.9"/>
<circle cx="1263.7" cy="1035.1" r="2.9"/>
<circle cx="926.9" cy="851.6" r="2.9"/>
<circle cx="1207.8" cy="793.6" r="2.9"/>
<circle cx="945.5" cy="865.6" r="2.9"/>
<circle cx="1257.2" cy="739.5" r="2.9"/>
<circle cx="1423.5" cy="720.9" r="2.9"/>
<circle cx="1056.8" cy="783.7" r="2.9"/>
<circle cx="1303.5" cy="977.6" r="2.9"/>
<circle cx="1399.3" cy="923" r="2.9"/>
<circle cx="1027" cy="803.9" r="2.9"/>
<circle cx="1315.8" cy="964.4" r="2.9"/>
<circle cx="1088.7" cy="802.4" r="2.9"/>
<circle cx="982.6" cy="978.9" r="2.9"/>
<circle cx="970.3" cy="988.1" r="2.9"/>
<circle cx="890.3" cy="956.8" r="2.9"/>
<circle cx="905.6" cy="937.4" r="2.9"/>
</g>
<g fill="#343f99">
<circle cx="1436.2" cy="845.8" r="2.9"/>
<circle cx="1371.7" cy="949.5" r="2.9"/>
<circle cx="1192.5" cy="1097.5" r="2.9"/>
<circle cx="1039.3" cy="817.1" r="2.9"/>
<circle cx="1217.3" cy="1044.6" r="2.9"/>
<circle cx="1088.7" cy="817.5" r="2.9"/>
<circle cx="1063.9" cy="807.8" r="2.9"/>
<circle cx="890.3" cy="1006.7" r="2.9"/>
<circle cx="1423.9" cy="827.9" r="2.9"/>
<circle cx="1365.2" cy="942.6" r="2.9"/>
<circle cx="1198.7" cy="1083.9" r="2.9"/>
<circle cx="890.3" cy="996.8" r="2.9"/>
<circle cx="1027" cy="857.4" r="2.9"/>
<circle cx="1272.7" cy="759.7" r="2.9"/>
<circle cx="1403.6" cy="888.9" r="2.9"/>
<circle cx="964" cy="1124.4" r="2.9"/>
<circle cx="1374.7" cy="915" r="2.9"/>
<circle cx="911.6" cy="950.4" r="2.9"/>
<circle cx="917.9" cy="1048.7" r="2.9"/>
<circle cx="1266.5" cy="770.1" r="2.9"/>
<circle cx="1155.3" cy="1097.9" r="2.9"/>
<circle cx="936.4" cy="1022" r="2.9"/>
<circle cx="1348" cy="934.6" r="2.9"/>
<circle cx="1084.4" cy="1119.3" r="2.9"/>
<circle cx="887" cy="1055.6" r="2.9"/>
<circle cx="1340.6" cy="930.8" r="2.9"/>
<circle cx="1019.7" cy="1136.1" r="2.9"/>
</g>
<g fill="#37489e">
<circle cx="1263.7" cy="981" r="2.9"/>
<circle cx="914.6" cy="1019.4" r="2.9"/>
<circle cx="1254.4" cy="1001.3" r="2.9"/>
<circle cx="1107.2" cy="845.6" r="2.9"/>
<circle cx="930.4" cy="967.2" r="2.9"/>
<circle cx="1019.7" cy="898.2" r="2.9"/>
<circle cx="1317.1" cy="937.7" r="2.9"/>
<circle cx="1414.8" cy="862.8" r="2.9"/>
<circle cx="1248.1" cy="1002.6" r="2.9"/>
<circle cx="884" cy="1061.5" r="2.9"/>
<circle cx="995.1" cy="1138.4" r="2.9"/>
<circle cx="988.8" cy="1133.3" r="2.9"/>
<circle cx="923.9" cy="967.9" r="2.9"/>
<circle cx="1414.8" cy="848.2" r="2.9"/>
<circle cx="1149.3" cy="1087.8" r="2.9"/>
<circle cx="1204.8" cy="1034.1" r="2.9"/>
<circle cx="1189.2" cy="1067.3" r="2.9"/>
<circle cx="998.1" cy="1135.9" r="2.9"/>
<circle cx="933.2" cy="990.3" r="2.9"/>
<circle cx="933.2" cy="1122.7" r="2.9"/>
<circle cx="1211" cy="1017.9" r="2.9"/>
<circle cx="926.9" cy="1008.2" r="2.9"/>
<circle cx="967.3" cy="1028.5" r="2.9"/>
<circle cx="1097.9" cy="881.6" r="2.9"/>
<circle cx="884" cy="1089.3" r="2.9"/>
<circle cx="1093.6" cy="874.3" r="2.9"/>
<circle cx="1019.7" cy="947.1" r="2.9"/>
<circle cx="1019.7" cy="975" r="2.9"/>
<circle cx="1116.5" cy="853.3" r="2.9"/>
<circle cx="1161.6" cy="1084.1" r="2.9"/>
<circle cx="914.6" cy="979.5" r="2.9"/>
<circle cx="1173.9" cy="1078.3" r="2.9"/>
<circle cx="1023.8" cy="959.4" r="2.9"/>
<circle cx="1032" cy="888.5" r="2.9"/>
<circle cx="1112.2" cy="861.5" r="2.9"/>
<circle cx="911.6" cy="993.5" r="2.9"/>
<circle cx="1088.7" cy="903.6" r="2.9"/>
<circle cx="1099.9" cy="1106.7" r="2.9"/>
</g>
<g fill="#3a51a2">
<circle cx="1183.2" cy="1057.8" r="2.9"/>
<circle cx="1402.3" cy="868.2" r="2.9"/>
<circle cx="1051.6" cy="838.5" r="2.9"/>
<circle cx="1235.8" cy="992.9" r="2.9"/>
<circle cx="1275.9" cy="780.4" r="2.9"/>
<circle cx="923.9" cy="997.8" r="2.9"/>
<circle cx="1094.9" cy="901.4" r="2.9"/>
<circle cx="1189.2" cy="1036.2" r="2.9"/>
<circle cx="1405.6" cy="812.8" r="2.9"/>
<circle cx="1039.3" cy="867.6" r="2.9"/>
<circle cx="896.3" cy="1097.9" r="2.9"/>
<circle cx="890.3" cy="1072.2" r="2.9"/>
<circle cx="1371.7" cy="896.2" r="2.9"/>
<circle cx="1251.1" cy="977.8" r="2.9"/>
<circle cx="1201.8" cy="1012.7" r="2.9"/>
<circle cx="1122.7" cy="884.4" r="2.9"/>
<circle cx="1318.9" cy="919.8" r="2.9"/>
<circle cx="1020.7" cy="921.5" r="2.9"/>
<circle cx="1076.4" cy="845.4" r="2.9"/>
<circle cx="1173.9" cy="1053.7" r="2.9"/>
<circle cx="893.1" cy="1085.6" r="2.9"/>
<circle cx="1217.3" cy="990.9" r="2.9"/>
<circle cx="1309.6" cy="753.9" r="2.9"/>
<circle cx="1063.9" cy="878.1" r="2.9"/>
<circle cx="1050.7" cy="890.9" r="2.9"/>
<circle cx="1422.6" cy="753.9" r="2.9"/>
<circle cx="1048.6" cy="893.4" r="2.9"/>
<circle cx="1195.5" cy="1009.3" r="2.9"/>
<circle cx="1070.1" cy="846.9" r="2.9"/>
<circle cx="1057.8" cy="876.8" r="2.9"/>
</g>
<g fill="#3c5aa7">
<circle cx="1306.8" cy="922.8" r="2.9"/>
<circle cx="1297.3" cy="766.4" r="2.9"/>
<circle cx="899.5" cy="1086.5" r="2.9"/>
<circle cx="1054.8" cy="849.9" r="2.9"/>
<circle cx="1271" cy="929.9" r="2.9"/>
<circle cx="905.6" cy="1079.8" r="2.9"/>
<circle cx="945.5" cy="1111.5" r="2.9"/>
<circle cx="1096.7" cy="918.9" r="2.9"/>
<circle cx="1201.8" cy="825.7" r="2.9"/>
<circle cx="1019.7" cy="993.5" r="2.9"/>
<circle cx="1343.7" cy="737.6" r="2.9"/>
<circle cx="1381" cy="882.2" r="2.9"/>
<circle cx="1244.9" cy="969.2" r="2.9"/>
<circle cx="1067.1" cy="853.8" r="2.9"/>
<circle cx="1060.9" cy="854.4" r="2.9"/>
<circle cx="1063.9" cy="859.6" r="2.9"/>
<circle cx="1352.9" cy="889.6" r="2.9"/>
<circle cx="1419.6" cy="757.3" r="2.9"/>
<circle cx="992.1" cy="1020" r="2.9"/>
<circle cx="1027" cy="990.9" r="2.9"/>
<circle cx="961" cy="1056.5" r="2.9"/>
<circle cx="945.5" cy="1061.7" r="2.9"/>
<circle cx="948.7" cy="1060.8" r="2.9"/>
<circle cx="976.5" cy="1039.7" r="2.9"/>
<circle cx="1146.3" cy="1063.6" r="2.9"/>
<circle cx="1042.3" cy="951.2" r="2.9"/>
</g>
<g fill="#3f63ab">
<circle cx="1390" cy="843.6" r="2.9"/>
<circle cx="1143" cy="1064.3" r="2.9"/>
<circle cx="961" cy="1060.4" r="2.9"/>
<circle cx="1073.1" cy="937.4" r="2.9"/>
<circle cx="982.6" cy="1088.8" r="2.9"/>
<circle cx="1189.5" cy="833.3" r="2.9"/>
<circle cx="1418.9" cy="766.4" r="2.9"/>
<circle cx="1057.8" cy="917.6" r="2.9"/>
<circle cx="998.1" cy="1110" r="2.9"/>
<circle cx="1081.6" cy="1104.3" r="2.9"/>
<circle cx="1079.4" cy="943.9" r="2.9"/>
<circle cx="1032" cy="1110.8" r="2.9"/>
<circle cx="1387.2" cy="842.3" r="2.9"/>
<circle cx="923.9" cy="1102.9" r="2.9"/>
<circle cx="1252.7" cy="940" r="2.9"/>
<circle cx="1019.7" cy="1002.8" r="2.9"/>
<circle cx="1277.2" cy="923" r="2.9"/>
<circle cx="1054.8" cy="960.1" r="2.9"/>
<circle cx="1238.9" cy="966.6" r="2.9"/>
<circle cx="964" cy="1072.2" r="2.9"/>
<circle cx="1036.3" cy="917.6" r="2.9"/>
<circle cx="923.9" cy="1100.7" r="2.9"/>
<circle cx="979.6" cy="1070.7" r="2.9"/>
<circle cx="1368.5" cy="879.2" r="2.9"/>
<circle cx="1060.9" cy="927.3" r="2.9"/>
<circle cx="1150.4" cy="843.8" r="2.9"/>
<circle cx="1303.5" cy="914.6" r="2.9"/>
<circle cx="1118.4" cy="914.4" r="2.9"/>
<circle cx="1377.7" cy="868.2" r="2.9"/>
<circle cx="923.9" cy="1098.5" r="2.9"/>
<circle cx="1390" cy="814.1" r="2.9"/>
<circle cx="1159.5" cy="1039.3" r="2.9"/>
<circle cx="1346.9" cy="882.2" r="2.9"/>
<circle cx="1088.7" cy="946.7" r="2.9"/>
<circle cx="955" cy="1086.5" r="2.9"/>
<circle cx="1377.7" cy="864.5" r="2.9"/>
<circle cx="1381" cy="843.2" r="2.9"/>
<circle cx="1395.9" cy="742.8" r="2.9"/>
<circle cx="1059.8" cy="936.4" r="2.9"/>
<circle cx="1155.7" cy="842.3" r="2.9"/>
<circle cx="945.5" cy="1099" r="2.9"/>
<circle cx="1164.7" cy="1027.2" r="2.9"/>
<circle cx="1036.3" cy="924.3" r="2.9"/>
<circle cx="1384" cy="827.2" r="2.9"/>
<circle cx="930.4" cy="1080.6" r="2.9"/>
<circle cx="1411.1" cy="779.7" r="2.9"/>
</g>
<g fill="#426cb0">
<circle cx="988.8" cy="1087.5" r="2.9"/>
<circle cx="1414.8" cy="762.5" r="2.9"/>
<circle cx="1022.7" cy="1111.5" r="2.9"/>
<circle cx="1038.2" cy="931.2" r="2.9"/>
<circle cx="933.2" cy="1101.4" r="2.9"/>
<circle cx="936.4" cy="1077.2" r="2.9"/>
<circle cx="1007.4" cy="1016.6" r="2.9"/>
<circle cx="1039.3" cy="923.9" r="2.9"/>
<circle cx="1304.6" cy="911.3" r="2.9"/>
<circle cx="1099.9" cy="937.4" r="2.9"/>
<circle cx="1362.4" cy="853.1" r="2.9"/>
<circle cx="1048.6" cy="981.2" r="2.9"/>
<circle cx="1368.5" cy="871" r="2.9"/>
<circle cx="1183.2" cy="1002.6" r="2.9"/>
<circle cx="1059.8" cy="968.3" r="2.9"/>
<circle cx="988.8" cy="1065.8" r="2.9"/>
<circle cx="1340.6" cy="878.8" r="2.9"/>
<circle cx="1153.6" cy="844.9" r="2.9"/>
<circle cx="1045.5" cy="923.4" r="2.9"/>
<circle cx="1042.5" cy="930.8" r="2.9"/>
<circle cx="945.5" cy="1077.4" r="2.9"/>
<circle cx="936.4" cy="1098.5" r="2.9"/>
<circle cx="1051.6" cy="930.5" r="2.9"/>
<circle cx="1371.7" cy="839.5" r="2.9"/>
<circle cx="1356" cy="860.7" r="2.9"/>
<circle cx="948.7" cy="1082.4" r="2.9"/>
<circle cx="1365.2" cy="863.9" r="2.9"/>
<circle cx="1140.6" cy="860.2" r="2.9"/>
<circle cx="1140" cy="873.2" r="2.9"/>
<circle cx="992.1" cy="1033.4" r="2.9"/>
<circle cx="1093.6" cy="949.3" r="2.9"/>
<circle cx="1350.1" cy="868.2" r="2.9"/>
<circle cx="1063.4" cy="969.4" r="2.9"/>
<circle cx="1412.7" cy="766.4" r="2.9"/>
<circle cx="1115.2" cy="923.4" r="2.9"/>
<circle cx="1116.5" cy="922.1" r="2.9"/>
<circle cx="1104.2" cy="1086.7" r="2.9"/>
<circle cx="1137" cy="1057.1" r="2.9"/>
<circle cx="939.4" cy="1088.2" r="2.9"/>
<circle cx="1337.6" cy="874.3" r="2.9"/>
<circle cx="1377.7" cy="825.1" r="2.9"/>
<circle cx="1340.1" cy="745.9" r="2.9"/>
<circle cx="992.1" cy="1041" r="2.9"/>
<circle cx="992.1" cy="1043.1" r="2.9"/>
<circle cx="1164.7" cy="1016" r="2.9"/>
<circle cx="1337.6" cy="872.5" r="2.9"/>
</g>
<g fill="#4575b4">
<circle cx="1143.5" cy="859.6" r="2.9"/>
<circle cx="1013.4" cy="1107.4" r="2.9"/>
<circle cx="1067.1" cy="972" r="2.9"/>
<circle cx="1155.3" cy="1032.3" r="2.9"/>
<circle cx="995.1" cy="1038.2" r="2.9"/>
<circle cx="1134.8" cy="1055.4" r="2.9"/>
<circle cx="998.1" cy="1048.5" r="2.9"/>
<circle cx="1022.7" cy="1015.1" r="2.9"/>
<circle cx="1004.1" cy="1099.6" r="2.9"/>
<circle cx="998.1" cy="1046.4" r="2.9"/>
<circle cx="1127.5" cy="1061.5" r="2.9"/>
<circle cx="1371.7" cy="826.4" r="2.9"/>
<circle cx="1229.6" cy="965.1" r="2.9"/>
<circle cx="1013.4" cy="1103.9" r="2.9"/>
<circle cx="1249.3" cy="814" r="2.9"/>
</g>
<g fill="#4c7db8">
<circle cx="1042.3" cy="1004.1" r="2.9"/>
<circle cx="1380.9" cy="742.5" r="2.9"/>
<circle cx="1001.1" cy="1081.3" r="2.9"/>
<circle cx="1001.1" cy="1085.2" r="2.9"/>
<circle cx="1063.4" cy="981.2" r="2.9"/>
<circle cx="1025.7" cy="1101.1" r="2.9"/>
<circle cx="1325.3" cy="877.3" r="2.9"/>
<circle cx="1004.1" cy="1074" r="2.9"/>
<circle cx="1130.9" cy="913.3" r="2.9"/>
<circle cx="1166.2" cy="848.2" r="2.9"/>
<circle cx="1393.3" cy="794.7" r="2.9"/>
<circle cx="1016.6" cy="1024.6" r="2.9"/>
<circle cx="1013.4" cy="1099.2" r="2.9"/>
<circle cx="1402.3" cy="757.1" r="2.9"/>
<circle cx="1149.3" cy="1031.5" r="2.9"/>
<circle cx="1028.9" cy="1019.2" r="2.9"/>
<circle cx="1102.9" cy="950.6" r="2.9"/>
<circle cx="1011.5" cy="1033" r="2.9"/>
<circle cx="1066" cy="983.2" r="2.9"/>
<circle cx="1312.8" cy="767.1" r="2.9"/>
</g>
<g fill="#5285bc">
<circle cx="1201.8" cy="841.5" r="2.9"/>
<circle cx="1051.6" cy="1000.9" r="2.9"/>
<circle cx="1186.2" cy="847.1" r="2.9"/>
<circle cx="1025.7" cy="1096.2" r="2.9"/>
<circle cx="1022.7" cy="1027.2" r="2.9"/>
<circle cx="1156.4" cy="856.8" r="2.9"/>
<circle cx="1010.4" cy="1086.7" r="2.9"/>
<circle cx="1010.4" cy="1084.5" r="2.9"/>
<circle cx="1016.6" cy="1036" r="2.9"/>
<circle cx="1059.8" cy="993.5" r="2.9"/>
<circle cx="1325.3" cy="869.9" r="2.9"/>
<circle cx="1109.2" cy="945.2" r="2.9"/>
<circle cx="1044.5" cy="1012.5" r="2.9"/>
<circle cx="1013.4" cy="1074.6" r="2.9"/>
<circle cx="1046.2" cy="1011.2" r="2.9"/>
<circle cx="1152.5" cy="866.7" r="2.9"/>
<circle cx="1087.6" cy="1091.2" r="2.9"/>
<circle cx="1235.6" cy="825.7" r="2.9"/>
</g>
<g fill="#598dc0">
<circle cx="1315.4" cy="881.2" r="2.9"/>
<circle cx="1088.7" cy="973.3" r="2.9"/>
<circle cx="1214.1" cy="970.9" r="2.9"/>
<circle cx="1022.7" cy="1037.1" r="2.9"/>
<circle cx="1180.2" cy="994.2" r="2.9"/>
<circle cx="1364.7" cy="821.2" r="2.9"/>
<circle cx="1146.3" cy="1025.9" r="2.9"/>
<circle cx="1099.9" cy="1080" r="2.9"/>
<circle cx="1223.3" cy="834.4" r="2.9"/>
<circle cx="1156.4" cy="868.9" r="2.9"/>
<circle cx="1294.3" cy="902.1" r="2.9"/>
<circle cx="1022.7" cy="1046.8" r="2.9"/>
<circle cx="1169" cy="856.1" r="2.9"/>
<circle cx="1078.1" cy="984.2" r="2.9"/>
<circle cx="1028.9" cy="1087.5" r="2.9"/>
</g>
<g fill="#6095c5">
<circle cx="1149.3" cy="1019.4" r="2.9"/>
<circle cx="1159.6" cy="865" r="2.9"/>
<circle cx="1025.7" cy="1042.5" r="2.9"/>
<circle cx="1381" cy="799.8" r="2.9"/>
<circle cx="1143" cy="1027.2" r="2.9"/>
<circle cx="1206.1" cy="846" r="2.9"/>
<circle cx="1364.9" cy="747.7" r="2.9"/>
<circle cx="1090.6" cy="976.1" r="2.9"/>
<circle cx="1032" cy="1085" r="2.9"/>
<circle cx="1032" cy="1038.2" r="2.9"/>
<circle cx="1300.5" cy="893.4" r="2.9"/>
</g>
<g fill="#679dc9">
<circle cx="1102.9" cy="1072.9" r="2.9"/>
<circle cx="1161.6" cy="872.5" r="2.9"/>
<circle cx="1183.2" cy="857" r="2.9"/>
<circle cx="1312.8" cy="877.3" r="2.9"/>
<circle cx="1066" cy="1001.9" r="2.9"/>
<circle cx="1266.7" cy="913.3" r="2.9"/>
<circle cx="1033.3" cy="1083" r="2.9"/>
<circle cx="1393.3" cy="778.1" r="2.9"/>
<circle cx="1125.1" cy="933.8" r="2.9"/>
<circle cx="1166.2" cy="869.3" r="2.9"/>
<circle cx="1393.9" cy="767.4" r="2.9"/>
<circle cx="1052" cy="1021.1" r="2.9"/>
<circle cx="1382.8" cy="753.5" r="2.9"/>
</g>
<g fill="#6da5cd">
<circle cx="1059.8" cy="1012.5" r="2.9"/>
<circle cx="1232.6" cy="833.5" r="2.9"/>
<circle cx="1028.9" cy="1061.7" r="2.9"/>
<circle cx="1152.5" cy="899.1" r="2.9"/>
<circle cx="1303.5" cy="886.5" r="2.9"/>
<circle cx="1158.5" cy="889.8" r="2.9"/>
<circle cx="1119.5" cy="1049.4" r="2.9"/>
<circle cx="1291.3" cy="897.8" r="2.9"/>
<circle cx="1137" cy="1025.9" r="2.9"/>
<circle cx="1183.2" cy="861.5" r="2.9"/>
<circle cx="1051" cy="1086.7" r="2.9"/>
<circle cx="1063.9" cy="1088.6" r="2.9"/>
<circle cx="1072.1" cy="1000.4" r="2.9"/>
<circle cx="1229.6" cy="949.3" r="2.9"/>
<circle cx="1391.3" cy="774.5" r="2.9"/>
<circle cx="1177" cy="865.6" r="2.9"/>
<circle cx="1235.8" cy="940" r="2.9"/>
</g>
<g fill="#74add1">
<circle cx="1306.7" cy="880.7" r="2.9"/>
<circle cx="1033.4" cy="1073.7" r="2.9"/>
<circle cx="1285" cy="802.2" r="2.9"/>
<circle cx="1121.3" cy="1043.7" r="2.9"/>
<circle cx="1156.4" cy="896.7" r="2.9"/>
<circle cx="1390.4" cy="773.5" r="2.9"/>
<circle cx="1032.7" cy="1069.3" r="2.9"/>
<circle cx="1115.2" cy="1051.8" r="2.9"/>
<circle cx="1390" cy="771.2" r="2.9"/>
<circle cx="1072.1" cy="1003.7" r="2.9"/>
<circle cx="1371.3" cy="753.1" r="2.9"/>
<circle cx="1169" cy="878.3" r="2.9"/>
<circle cx="1034.3" cy="1053.8" r="2.9"/>
<circle cx="1376.8" cy="794.3" r="2.9"/>
</g>
<g fill="#7cb3d4">
<circle cx="1083.5" cy="1082.6" r="2.9"/>
<circle cx="1212.1" cy="849.9" r="2.9"/>
<circle cx="1224" cy="953.5" r="2.9"/>
<circle cx="1196.1" cy="860.4" r="2.9"/>
<circle cx="1358.8" cy="754.4" r="2.9"/>
<circle cx="1076.6" cy="1084.8" r="2.9"/>
<circle cx="1199.2" cy="858.9" r="2.9"/>
<circle cx="1093.6" cy="1074.4" r="2.9"/>
<circle cx="1177" cy="873.2" r="2.9"/>
<circle cx="1168.6" cy="992.7" r="2.9"/>
<circle cx="1288.2" cy="895.8" r="2.9"/>
<circle cx="1237.6" cy="834" r="2.9"/>
<circle cx="1149.3" cy="910" r="2.9"/>
</g>
<g fill="#84bad8">
<circle cx="1067.6" cy="1085.1" r="2.9"/>
<circle cx="1296" cy="888.7" r="2.9"/>
<circle cx="1133.7" cy="1022" r="2.9"/>
<circle cx="1158.5" cy="898.8" r="2.9"/>
<circle cx="1175.4" cy="878.3" r="2.9"/>
<circle cx="1374.6" cy="757.4" r="2.9"/>
<circle cx="1190.3" cy="867.1" r="2.9"/>
<circle cx="1038.2" cy="1065.3" r="2.9"/>
<circle cx="1322.5" cy="773.3" r="2.9"/>
<circle cx="1049.3" cy="1037.4" r="2.9"/>
<circle cx="1370.5" cy="757" r="2.9"/>
</g>
<g fill="#8cc0db">
<circle cx="1039" cy="1067.6" r="2.9"/>
<circle cx="1382.7" cy="765.8" r="2.9"/>
<circle cx="1152.5" cy="908.8" r="2.9"/>
<circle cx="1373.4" cy="758.6" r="2.9"/>
<circle cx="1184.5" cy="873.2" r="2.9"/>
<circle cx="1041.8" cy="1050.9" r="2.9"/>
<circle cx="1226.6" cy="843.6" r="2.9"/>
<circle cx="1047.3" cy="1077.1" r="2.9"/>
<circle cx="1173.7" cy="884" r="2.9"/>
<circle cx="1096.7" cy="1066.8" r="2.9"/>
</g>
<g fill="#93c6df">
<circle cx="1048.9" cy="1077.2" r="2.9"/>
<circle cx="1195.5" cy="867.1" r="2.9"/>
<circle cx="1293.2" cy="887.8" r="2.9"/>
<circle cx="1381.2" cy="772.4" r="2.9"/>
<circle cx="1184.1" cy="981.2" r="2.9"/>
<circle cx="1380.9" cy="773.3" r="2.9"/>
<circle cx="1072.1" cy="1016.6" r="2.9"/>
<circle cx="1371.7" cy="760.4" r="2.9"/>
<circle cx="1204.8" cy="861.5" r="2.9"/>
<circle cx="1070.8" cy="1081" r="2.9"/>
<circle cx="1325.8" cy="773.3" r="2.9"/>
<circle cx="1192.5" cy="975.2" r="2.9"/>
<circle cx="1112.2" cy="1042.7" r="2.9"/>
<circle cx="1219.1" cy="850.7" r="2.9"/>
<circle cx="1058.7" cy="1079.7" r="2.9"/>
</g>
<g fill="#9bcce2">
<circle cx="1377.7" cy="766.4" r="2.9"/>
<circle cx="1376.2" cy="782.6" r="2.9"/>
<circle cx="1350.3" cy="762.4" r="2.9"/>
<circle cx="1272.7" cy="901.2" r="2.9"/>
<circle cx="1260.8" cy="821.9" r="2.9"/>
<circle cx="1279" cy="896.9" r="2.9"/>
<circle cx="1052.5" cy="1041.5" r="2.9"/>
<circle cx="1250" cy="830.1" r="2.9"/>
<circle cx="1335.3" cy="769.3" r="2.9"/>
<circle cx="1083.1" cy="1006.8" r="2.9"/>
<circle cx="1370.3" cy="789" r="2.9"/>
<circle cx="1376.7" cy="769.4" r="2.9"/>
</g>
<g fill="#a3d3e6">
<circle cx="1211" cy="858.9" r="2.9"/>
<circle cx="1331.6" cy="771.6" r="2.9"/>
<circle cx="1223.3" cy="849.5" r="2.9"/>
<circle cx="1375.9" cy="771.5" r="2.9"/>
<circle cx="1046.5" cy="1065.9" r="2.9"/>
<circle cx="1046.3" cy="1060.9" r="2.9"/>
<circle cx="1193.3" cy="874.3" r="2.9"/>
<circle cx="1227.1" cy="940.9" r="2.9"/>
</g>
<g fill="#abd9e9">
<circle cx="1119.5" cy="1024.8" r="2.9"/>
<circle cx="1158.5" cy="907.7" r="2.9"/>
<circle cx="1061.2" cy="1035.3" r="2.9"/>
<circle cx="1364.3" cy="764.6" r="2.9"/>
<circle cx="1274.2" cy="815.3" r="2.9"/>
<circle cx="1052.4" cy="1071.6" r="2.9"/>
<circle cx="1201.8" cy="965.5" r="2.9"/>
<circle cx="1071.8" cy="1076" r="2.9"/>
<circle cx="1363.4" cy="794.6" r="2.9"/>
<circle cx="1075.1" cy="1022.6" r="2.9"/>
<circle cx="1277.6" cy="813.8" r="2.9"/>
<circle cx="1156.4" cy="911.3" r="2.9"/>
<circle cx="1142.8" cy="928.6" r="2.9"/>
<circle cx="1372.4" cy="773.9" r="2.9"/>
<circle cx="1217.4" cy="951.2" r="2.9"/>
<circle cx="1289.5" cy="885.6" r="2.9"/>
</g>
<g fill="#b3ddeb">
<circle cx="1183.2" cy="885" r="2.9"/>
<circle cx="1094.7" cy="996.7" r="2.9"/>
<circle cx="1111.4" cy="1031.4" r="2.9"/>
<circle cx="1077.2" cy="1022.1" r="2.9"/>
<circle cx="1121.5" cy="958.1" r="2.9"/>
<circle cx="1121" cy="1020.1" r="2.9"/>
<circle cx="1313.8" cy="855.6" r="2.9"/>
<circle cx="1097.8" cy="1054" r="2.9"/>
<circle cx="1050.1" cy="1061.1" r="2.9"/>
<circle cx="1105.6" cy="1040.8" r="2.9"/>
<circle cx="1362.4" cy="767.3" r="2.9"/>
<circle cx="1238.9" cy="841" r="2.9"/>
<circle cx="1365.2" cy="768.4" r="2.9"/>
<circle cx="1362" cy="793.9" r="2.9"/>
<circle cx="1345.2" cy="769.5" r="2.9"/>
<circle cx="1056.3" cy="1045.5" r="2.9"/>
<circle cx="1095.6" cy="1055.8" r="2.9"/>
</g>
<g fill="#bae0ed">
<circle cx="1355.6" cy="768" r="2.9"/>
<circle cx="1085.1" cy="1015.5" r="2.9"/>
<circle cx="1355.2" cy="768.2" r="2.9"/>
<circle cx="1106.5" cy="1036.3" r="2.9"/>
<circle cx="1368.1" cy="774.8" r="2.9"/>
<circle cx="1072.1" cy="1029.9" r="2.9"/>
<circle cx="1097" cy="996.6" r="2.9"/>
<circle cx="1183.5" cy="886.9" r="2.9"/>
<circle cx="1078" cy="1070.8" r="2.9"/>
<circle cx="1055.8" cy="1048.5" r="2.9"/>
<circle cx="1071.6" cy="1072.7" r="2.9"/>
<circle cx="1086.5" cy="1064.5" r="2.9"/>
<circle cx="1346.9" cy="770.3" r="2.9"/>
<circle cx="1052.6" cy="1061.1" r="2.9"/>
<circle cx="1069.4" cy="1072.7" r="2.9"/>
<circle cx="1082.8" cy="1020.6" r="2.9"/>
<circle cx="1104.7" cy="1037.3" r="2.9"/>
<circle cx="1101.1" cy="1044.4" r="2.9"/>
<circle cx="1108.8" cy="1029.2" r="2.9"/>
<circle cx="1365.2" cy="783.5" r="2.9"/>
<circle cx="1073.2" cy="1030.4" r="2.9"/>
<circle cx="1130.9" cy="946.9" r="2.9"/>
<circle cx="1101.3" cy="1043.4" r="2.9"/>
<circle cx="1064.1" cy="1071.7" r="2.9"/>
<circle cx="1093.1" cy="1005.7" r="2.9"/>
<circle cx="1366" cy="777.9" r="2.9"/>
</g>
<g fill="#c2e4ef">
<circle cx="1115.2" cy="1020.4" r="2.9"/>
<circle cx="1054.5" cy="1056.2" r="2.9"/>
<circle cx="1063.6" cy="1070.7" r="2.9"/>
<circle cx="1054.5" cy="1060.9" r="2.9"/>
<circle cx="1354.8" cy="801" r="2.9"/>
<circle cx="1060.1" cy="1046.1" r="2.9"/>
<circle cx="1062.8" cy="1069.8" r="2.9"/>
<circle cx="1084.8" cy="1063.3" r="2.9"/>
<circle cx="1093.4" cy="1053" r="2.9"/>
<circle cx="1359.2" cy="772.7" r="2.9"/>
<circle cx="1356.8" cy="796.3" r="2.9"/>
<circle cx="1099.3" cy="1041.9" r="2.9"/>
</g>
<g fill="#c9e8f2">
<circle cx="1350.1" cy="807.3" r="2.9"/>
<circle cx="1070" cy="1036.7" r="2.9"/>
<circle cx="1338.4" cy="775.3" r="2.9"/>
<circle cx="1297.4" cy="807.8" r="2.9"/>
<circle cx="1126.2" cy="1010.7" r="2.9"/>
<circle cx="1356.9" cy="773.1" r="2.9"/>
<circle cx="1094.1" cy="1010.2" r="2.9"/>
<circle cx="1079.3" cy="1066" r="2.9"/>
<circle cx="1065.8" cy="1041.4" r="2.9"/>
<circle cx="1070.8" cy="1036.7" r="2.9"/>
<circle cx="1091.3" cy="1017.7" r="2.9"/>
<circle cx="1276.6" cy="891.8" r="2.9"/>
<circle cx="1102.3" cy="1030.9" r="2.9"/>
<circle cx="1096" cy="1045.2" r="2.9"/>
<circle cx="1061.5" cy="1066.2" r="2.9"/>
<circle cx="1097.1" cy="1042.1" r="2.9"/>
<circle cx="1325.3" cy="784.1" r="2.9"/>
<circle cx="1098.8" cy="1002.8" r="2.9"/>
<circle cx="1070.7" cy="1038.2" r="2.9"/>
<circle cx="1114" cy="976.1" r="2.9"/>
<circle cx="1344.6" cy="774.8" r="2.9"/>
<circle cx="1308.5" cy="801.1" r="2.9"/>
<circle cx="1253.6" cy="907.1" r="2.9"/>
<circle cx="1103.2" cy="994.1" r="2.9"/>
<circle cx="1101.2" cy="998.4" r="2.9"/>
</g>
<g fill="#d1ecf4">
<circle cx="1064.9" cy="1067" r="2.9"/>
<circle cx="1077.7" cy="1065" r="2.9"/>
<circle cx="1099.3" cy="1003.6" r="2.9"/>
<circle cx="1190.8" cy="884.9" r="2.9"/>
<circle cx="1102.9" cy="1024.8" r="2.9"/>
<circle cx="1077" cy="1065.3" r="2.9"/>
<circle cx="1061.1" cy="1051.1" r="2.9"/>
<circle cx="1338.9" cy="819.6" r="2.9"/>
<circle cx="1160.5" cy="912.8" r="2.9"/>
<circle cx="1142.8" cy="935.1" r="2.9"/>
<circle cx="1130.8" cy="1005.6" r="2.9"/>
<circle cx="1107.4" cy="1019.3" r="2.9"/>
<circle cx="1096.6" cy="1015.3" r="2.9"/>
<circle cx="1060" cy="1059.3" r="2.9"/>
<circle cx="1097.7" cy="1012.6" r="2.9"/>
<circle cx="1096.4" cy="1018.4" r="2.9"/>
<circle cx="1102.4" cy="998.6" r="2.9"/>
<circle cx="1061.1" cy="1061.3" r="2.9"/>
<circle cx="1097.1" cy="1022.4" r="2.9"/>
<circle cx="1127.7" cy="956.2" r="2.9"/>
<circle cx="1354.1" cy="777.1" r="2.9"/>
<circle cx="1070.8" cy="1041.2" r="2.9"/>
<circle cx="1099.8" cy="1010.6" r="2.9"/>
<circle cx="1336.3" cy="821.4" r="2.9"/>
<circle cx="1069.2" cy="1065.2" r="2.9"/>
</g>
<g fill="#d8eff6">
<circle cx="1120.6" cy="1010.5" r="2.9"/>
<circle cx="1150.4" cy="926.4" r="2.9"/>
<circle cx="1348.2" cy="805.8" r="2.9"/>
<circle cx="1091.5" cy="1046" r="2.9"/>
<circle cx="1352.7" cy="777.6" r="2.9"/>
<circle cx="1067" cy="1046.8" r="2.9"/>
<circle cx="1101.7" cy="1012.6" r="2.9"/>
<circle cx="1108.5" cy="1014.8" r="2.9"/>
<circle cx="1088.7" cy="1033" r="2.9"/>
<circle cx="1080.4" cy="1036.2" r="2.9"/>
<circle cx="1205.1" cy="957.2" r="2.9"/>
<circle cx="1091.4" cy="1042.9" r="2.9"/>
<circle cx="1340.8" cy="815.4" r="2.9"/>
<circle cx="1354.8" cy="790.9" r="2.9"/>
<circle cx="1083.6" cy="1034.8" r="2.9"/>
<circle cx="1344.8" cy="809.9" r="2.9"/>
<circle cx="1327.6" cy="785" r="2.9"/>
<circle cx="1301.6" cy="808.3" r="2.9"/>
<circle cx="1086" cy="1035.5" r="2.9"/>
<circle cx="1067.5" cy="1062.2" r="2.9"/>
<circle cx="1122.9" cy="1007.9" r="2.9"/>
<circle cx="1103.2" cy="1005.1" r="2.9"/>
<circle cx="1337.5" cy="780" r="2.9"/>
<circle cx="1104.1" cy="1009.1" r="2.9"/>
<circle cx="1086.6" cy="1049.4" r="2.9"/>
<circle cx="1302.1" cy="808.4" r="2.9"/>
</g>
<g fill="#e0f3f8">
<circle cx="1353.6" cy="790.3" r="2.9"/>
<circle cx="1353.3" cy="782.4" r="2.9"/>
<circle cx="1106.4" cy="998.1" r="2.9"/>
<circle cx="1084.3" cy="1049.3" r="2.9"/>
<circle cx="1081.6" cy="1053.3" r="2.9"/>
<circle cx="1084.2" cy="1043.2" r="2.9"/>
<circle cx="1081.4" cy="1052.9" r="2.9"/>
<circle cx="1083.8" cy="1045.8" r="2.9"/>
<circle cx="1080.2" cy="1052.9" r="2.9"/>
<circle cx="1331.6" cy="784.5" r="2.9"/>
<circle cx="1070.8" cy="1053.2" r="2.9"/>
<circle cx="1072.8" cy="1056.3" r="2.9"/>
</g>
<g fill="#e4f0e9">
<circle cx="1312.6" cy="802" r="2.9"/>
<circle cx="1078" cy="1049.1" r="2.9"/>
<circle cx="1314.7" cy="800.1" r="2.9"/>
<circle cx="1341.2" cy="811.5" r="2.9"/>
<circle cx="1349.1" cy="783.5" r="2.9"/>
<circle cx="1330.3" cy="786" r="2.9"/>
<circle cx="1346.9" cy="782.4" r="2.9"/>
<circle cx="1111.3" cy="990.2" r="2.9"/>
<circle cx="1229.6" cy="854.6" r="2.9"/>
<circle cx="1337.2" cy="815.8" r="2.9"/>
<circle cx="1132.6" cy="999.5" r="2.9"/>
<circle cx="1109.4" cy="1000.9" r="2.9"/>
<circle cx="1135.3" cy="997.6" r="2.9"/>
<circle cx="1116.1" cy="981.2" r="2.9"/>
<circle cx="1341.1" cy="782.7" r="2.9"/>
<circle cx="1110.8" cy="994.9" r="2.9"/>
</g>
<g fill="#e9eeda">
<circle cx="1347.3" cy="797.5" r="2.9"/>
<circle cx="1137.9" cy="995.3" r="2.9"/>
<circle cx="1119.1" cy="1003.7" r="2.9"/>
<circle cx="1115.4" cy="984.4" r="2.9"/>
<circle cx="1327" cy="826" r="2.9"/>
<circle cx="1131.3" cy="998.9" r="2.9"/>
<circle cx="1218.5" cy="940.6" r="2.9"/>
<circle cx="1327.7" cy="789.9" r="2.9"/>
<circle cx="1297.6" cy="866.3" r="2.9"/>
<circle cx="1346.1" cy="797.9" r="2.9"/>
<circle cx="1326.7" cy="825.7" r="2.9"/>
<circle cx="1186.9" cy="893.8" r="2.9"/>
<circle cx="1131.1" cy="998.2" r="2.9"/>
<circle cx="1164.2" cy="914.1" r="2.9"/>
<circle cx="1177.9" cy="973.8" r="2.9"/>
</g>
<g fill="#edebcb">
<circle cx="1214.6" cy="944.5" r="2.9"/>
<circle cx="1327.4" cy="824.4" r="2.9"/>
<circle cx="1322.9" cy="795.4" r="2.9"/>
<circle cx="1342.1" cy="786.5" r="2.9"/>
<circle cx="1122.4" cy="973.4" r="2.9"/>
<circle cx="1345.3" cy="789.6" r="2.9"/>
<circle cx="1114.2" cy="992.9" r="2.9"/>
<circle cx="1335.7" cy="814" r="2.9"/>
<circle cx="1201.8" cy="882.2" r="2.9"/>
<circle cx="1119.9" cy="978.4" r="2.9"/>
<circle cx="1270.5" cy="826.2" r="2.9"/>
<circle cx="1128.1" cy="964.1" r="2.9"/>
<circle cx="1331.8" cy="818.1" r="2.9"/>
<circle cx="1255.4" cy="837.1" r="2.9"/>
<circle cx="1146" cy="937.9" r="2.9"/>
<circle cx="1196.1" cy="887.5" r="2.9"/>
<circle cx="1321.3" cy="830.6" r="2.9"/>
<circle cx="1320.1" cy="799.5" r="2.9"/>
<circle cx="1121.7" cy="999.4" r="2.9"/>
<circle cx="1125.3" cy="998.7" r="2.9"/>
<circle cx="1129.6" cy="997.1" r="2.9"/>
</g>
<g fill="#f1e8bd">
<circle cx="1330.6" cy="791.2" r="2.9"/>
<circle cx="1337.6" cy="789.5" r="2.9"/>
<circle cx="1118.6" cy="984.9" r="2.9"/>
<circle cx="1341.8" cy="800.1" r="2.9"/>
<circle cx="1325.6" cy="823.7" r="2.9"/>
<circle cx="1196.2" cy="960.2" r="2.9"/>
<circle cx="1316.4" cy="804.9" r="2.9"/>
<circle cx="1118.6" cy="994.6" r="2.9"/>
<circle cx="1178.4" cy="972" r="2.9"/>
<circle cx="1329.5" cy="793.6" r="2.9"/>
<circle cx="1326" cy="796.3" r="2.9"/>
<circle cx="1333.6" cy="812.8" r="2.9"/>
<circle cx="1154.8" cy="928.2" r="2.9"/>
</g>
<g fill="#f5e5ae">
<circle cx="1341.1" cy="796.7" r="2.9"/>
<circle cx="1171.2" cy="909.1" r="2.9"/>
<circle cx="1119.8" cy="985.4" r="2.9"/>
<circle cx="1120.6" cy="983.1" r="2.9"/>
<circle cx="1130.6" cy="994.2" r="2.9"/>
<circle cx="1328.7" cy="795.2" r="2.9"/>
<circle cx="1208" cy="878.7" r="2.9"/>
<circle cx="1273" cy="887.2" r="2.9"/>
<circle cx="1119.9" cy="992.4" r="2.9"/>
<circle cx="1258" cy="897.9" r="2.9"/>
<circle cx="1328.8" cy="795.7" r="2.9"/>
<circle cx="1334.9" cy="793.6" r="2.9"/>
<circle cx="1221.9" cy="932.7" r="2.9"/>
<circle cx="1120.9" cy="992" r="2.9"/>
<circle cx="1326.4" cy="798.4" r="2.9"/>
<circle cx="1288.7" cy="819.7" r="2.9"/>
</g>
<g fill="#fae39f">
<circle cx="1327.8" cy="816.8" r="2.9"/>
<circle cx="1322.3" cy="823.9" r="2.9"/>
<circle cx="1336.3" cy="797" r="2.9"/>
<circle cx="1235.8" cy="854.3" r="2.9"/>
<circle cx="1122.8" cy="989.2" r="2.9"/>
<circle cx="1131.6" cy="963.9" r="2.9"/>
<circle cx="1326.4" cy="817.1" r="2.9"/>
<circle cx="1329" cy="813.6" r="2.9"/>
<circle cx="1330.9" cy="798.5" r="2.9"/>
<circle cx="1318.7" cy="807.7" r="2.9"/>
<circle cx="1334.5" cy="799.5" r="2.9"/>
<circle cx="1322.9" cy="821.6" r="2.9"/>
<circle cx="1223" cy="865.5" r="2.9"/>
<circle cx="1334.3" cy="802.4" r="2.9"/>
<circle cx="1292.8" cy="819.4" r="2.9"/>
<circle cx="1136.3" cy="956.1" r="2.9"/>
<circle cx="1315.2" cy="833.3" r="2.9"/>
<circle cx="1333.3" cy="801.5" r="2.9"/>
<circle cx="1149.7" cy="983.1" r="2.9"/>
</g>
<g fill="#fee090">
<circle cx="1134.1" cy="989.5" r="2.9"/>
<circle cx="1316.6" cy="810.6" r="2.9"/>
<circle cx="1328.3" cy="802" r="2.9"/>
<circle cx="1316.9" cy="810.5" r="2.9"/>
<circle cx="1308.8" cy="844.1" r="2.9"/>
<circle cx="1316.9" cy="829.4" r="2.9"/>
<circle cx="1280.8" cy="823.9" r="2.9"/>
<circle cx="1124.8" cy="982.9" r="2.9"/>
<circle cx="1126.6" cy="988.6" r="2.9"/>
<circle cx="1326.2" cy="806.6" r="2.9"/>
<circle cx="1316.1" cy="812.6" r="2.9"/>
<circle cx="1127.9" cy="988.4" r="2.9"/>
<circle cx="1316.9" cy="827.8" r="2.9"/>
<circle cx="1307.3" cy="845.4" r="2.9"/>
<circle cx="1322.4" cy="816.9" r="2.9"/>
<circle cx="1305.8" cy="817" r="2.9"/>
<circle cx="1320" cy="811.7" r="2.9"/>
<circle cx="1181.6" cy="902.8" r="2.9"/>
<circle cx="1126.7" cy="985.2" r="2.9"/>
</g>
<g fill="#fed989">
<circle cx="1315.9" cy="828.2" r="2.9"/>
<circle cx="1129.6" cy="972.8" r="2.9"/>
<circle cx="1317.2" cy="824.8" r="2.9"/>
<circle cx="1142.6" cy="984.3" r="2.9"/>
<circle cx="1139.5" cy="985.5" r="2.9"/>
<circle cx="1127.9" cy="984.5" r="2.9"/>
<circle cx="1130.4" cy="986.6" r="2.9"/>
<circle cx="1287.1" cy="822.5" r="2.9"/>
<circle cx="1224.8" cy="925.6" r="2.9"/>
<circle cx="1143.2" cy="983.9" r="2.9"/>
<circle cx="1292.2" cy="821.3" r="2.9"/>
<circle cx="1138.7" cy="955.3" r="2.9"/>
<circle cx="1291" cy="821.8" r="2.9"/>
</g>
<g fill="#fed283">
<circle cx="1140.1" cy="954" r="2.9"/>
<circle cx="1130.5" cy="978.7" r="2.9"/>
<circle cx="1305" cy="846.3" r="2.9"/>
<circle cx="1151.8" cy="937.7" r="2.9"/>
<circle cx="1130.9" cy="980.3" r="2.9"/>
<circle cx="1312.8" cy="828.4" r="2.9"/>
<circle cx="1146.8" cy="944.8" r="2.9"/>
<circle cx="1137.8" cy="959" r="2.9"/>
<circle cx="1134.3" cy="982.8" r="2.9"/>
<circle cx="1312.2" cy="829.7" r="2.9"/>
<circle cx="1304.6" cy="846.5" r="2.9"/>
<circle cx="1302.6" cy="849.8" r="2.9"/>
</g>
<g fill="#fecb7c">
<circle cx="1154.7" cy="977.9" r="2.9"/>
<circle cx="1145.3" cy="980.9" r="2.9"/>
<circle cx="1132.4" cy="978.4" r="2.9"/>
<circle cx="1309.4" cy="822.2" r="2.9"/>
<circle cx="1311.6" cy="825" r="2.9"/>
<circle cx="1307.4" cy="821.8" r="2.9"/>
<circle cx="1135.5" cy="966.3" r="2.9"/>
<circle cx="1144.8" cy="948.9" r="2.9"/>
<circle cx="1142.9" cy="980.6" r="2.9"/>
<circle cx="1308.2" cy="836.8" r="2.9"/>
</g>
<g fill="#fdc375">
<circle cx="1183.9" cy="903.9" r="2.9"/>
<circle cx="1146.6" cy="979.3" r="2.9"/>
<circle cx="1304.3" cy="844.9" r="2.9"/>
<circle cx="1147.7" cy="945.4" r="2.9"/>
<circle cx="1308.9" cy="833.9" r="2.9"/>
<circle cx="1287.8" cy="824.9" r="2.9"/>
<circle cx="1155.5" cy="934.8" r="2.9"/>
<circle cx="1281.8" cy="827" r="2.9"/>
<circle cx="1155.4" cy="976.4" r="2.9"/>
<circle cx="1308.4" cy="831" r="2.9"/>
<circle cx="1268.4" cy="834.3" r="2.9"/>
<circle cx="1152.4" cy="976.8" r="2.9"/>
<circle cx="1277.8" cy="877.4" r="2.9"/>
<circle cx="1308.1" cy="828.9" r="2.9"/>
</g>
<g fill="#fdbc6e">
<circle cx="1137.1" cy="967.5" r="2.9"/>
<circle cx="1305.1" cy="840.7" r="2.9"/>
<circle cx="1262.2" cy="889" r="2.9"/>
<circle cx="1138.2" cy="966.4" r="2.9"/>
<circle cx="1172.2" cy="915.6" r="2.9"/>
<circle cx="1153.2" cy="975.5" r="2.9"/>
</g>
<g fill="#fdb568">
<circle cx="1139.7" cy="963.8" r="2.9"/>
<circle cx="1237.2" cy="907.1" r="2.9"/>
<circle cx="1150.1" cy="944.9" r="2.9"/>
<circle cx="1138.7" cy="969" r="2.9"/>
<circle cx="1295" cy="856.9" r="2.9"/>
<circle cx="1139.2" cy="972" r="2.9"/>
<circle cx="1148.7" cy="975.4" r="2.9"/>
<circle cx="1304.7" cy="836.1" r="2.9"/>
<circle cx="1170.4" cy="968.9" r="2.9"/>
<circle cx="1144.3" cy="975.1" r="2.9"/>
<circle cx="1276.2" cy="831.5" r="2.9"/>
<circle cx="1160.6" cy="972.3" r="2.9"/>
<circle cx="1274.9" cy="832.2" r="2.9"/>
</g>
<g fill="#fdae61">
<circle cx="1142.9" cy="958.7" r="2.9"/>
<circle cx="1238.8" cy="904.5" r="2.9"/>
<circle cx="1283.7" cy="829.1" r="2.9"/>
<circle cx="1228.4" cy="914.4" r="2.9"/>
<circle cx="1141.5" cy="968.5" r="2.9"/>
<circle cx="1294.2" cy="827.8" r="2.9"/>
<circle cx="1186.7" cy="959.3" r="2.9"/>
</g>
<g fill="#fca55d">
<circle cx="1281.4" cy="830.4" r="2.9"/>
<circle cx="1299.9" cy="829.7" r="2.9"/>
<circle cx="1245.9" cy="854.1" r="2.9"/>
<circle cx="1292.6" cy="828.2" r="2.9"/>
<circle cx="1298.4" cy="848.4" r="2.9"/>
<circle cx="1142.6" cy="966.6" r="2.9"/>
<circle cx="1150.3" cy="947.9" r="2.9"/>
<circle cx="1156.3" cy="938.9" r="2.9"/>
<circle cx="1259.8" cy="888.3" r="2.9"/>
<circle cx="1273.5" cy="877.6" r="2.9"/>
</g>
<g fill="#fa9b58">
<circle cx="1169" cy="967.4" r="2.9"/>
<circle cx="1275.6" cy="833.9" r="2.9"/>
<circle cx="1164.5" cy="968.8" r="2.9"/>
<circle cx="1243.5" cy="899.3" r="2.9"/>
<circle cx="1144.9" cy="963.9" r="2.9"/>
<circle cx="1295.2" cy="830.4" r="2.9"/>
<circle cx="1263.5" cy="841.8" r="2.9"/>
<circle cx="1175" cy="964.5" r="2.9"/>
<circle cx="1292" cy="830" r="2.9"/>
<circle cx="1246.3" cy="897" r="2.9"/>
<circle cx="1152.1" cy="970.6" r="2.9"/>
<circle cx="1179.5" cy="912.3" r="2.9"/>
<circle cx="1298.9" cy="833.7" r="2.9"/>
<circle cx="1151.2" cy="970.2" r="2.9"/>
</g>
<g fill="#f99254">
<circle cx="1147.8" cy="968.8" r="2.9"/>
<circle cx="1299.3" cy="835.6" r="2.9"/>
<circle cx="1226.1" cy="914.3" r="2.9"/>
<circle cx="1196" cy="900.7" r="2.9"/>
<circle cx="1299.1" cy="839.3" r="2.9"/>
<circle cx="1274.2" cy="835.6" r="2.9"/>
<circle cx="1255" cy="890.2" r="2.9"/>
<circle cx="1291.1" cy="857.2" r="2.9"/>
<circle cx="1170.9" cy="921.5" r="2.9"/>
<circle cx="1173.3" cy="964.6" r="2.9"/>
<circle cx="1246.3" cy="896.3" r="2.9"/>
<circle cx="1297.4" cy="834.4" r="2.9"/>
<circle cx="1298.5" cy="838.4" r="2.9"/>
<circle cx="1220.1" cy="921.5" r="2.9"/>
</g>
<g fill="#f88950">
<circle cx="1284.3" cy="832.4" r="2.9"/>
<circle cx="1229.3" cy="909.3" r="2.9"/>
<circle cx="1267.6" cy="840.5" r="2.9"/>
<circle cx="1181.7" cy="959.7" r="2.9"/>
<circle cx="1179.1" cy="961" r="2.9"/>
<circle cx="1230.7" cy="869.7" r="2.9"/>
<circle cx="1215.1" cy="928.1" r="2.9"/>
<circle cx="1151.2" cy="952.8" r="2.9"/>
<circle cx="1149.5" cy="964.4" r="2.9"/>
<circle cx="1294" cy="834.1" r="2.9"/>
<circle cx="1212.7" cy="889.1" r="2.9"/>
</g>
<g fill="#f7804c">
<circle cx="1155.9" cy="967.2" r="2.9"/>
<circle cx="1257.7" cy="886.8" r="2.9"/>
<circle cx="1245.3" cy="895.7" r="2.9"/>
<circle cx="1198.3" cy="900.7" r="2.9"/>
<circle cx="1160.1" cy="967" r="2.9"/>
<circle cx="1152.8" cy="965.9" r="2.9"/>
<circle cx="1296" cy="841" r="2.9"/>
<circle cx="1258.6" cy="885.8" r="2.9"/>
<circle cx="1290.5" cy="855" r="2.9"/>
<circle cx="1161.1" cy="937.6" r="2.9"/>
<circle cx="1225.3" cy="876.6" r="2.9"/>
<circle cx="1158" cy="966.2" r="2.9"/>
<circle cx="1246.8" cy="857.6" r="2.9"/>
<circle cx="1241.9" cy="897.3" r="2.9"/>
</g>
<g fill="#f57647">
<circle cx="1151.8" cy="955.9" r="2.9"/>
<circle cx="1160.5" cy="939.1" r="2.9"/>
<circle cx="1161" cy="965.6" r="2.9"/>
<circle cx="1151.4" cy="960.9" r="2.9"/>
<circle cx="1283.7" cy="863.3" r="2.9"/>
<circle cx="1257.8" cy="849.4" r="2.9"/>
<circle cx="1294.6" cy="842.7" r="2.9"/>
<circle cx="1160.7" cy="965.2" r="2.9"/>
<circle cx="1166.4" cy="964.2" r="2.9"/>
<circle cx="1229.7" cy="872.9" r="2.9"/>
<circle cx="1157.8" cy="944.5" r="2.9"/>
<circle cx="1291.1" cy="836" r="2.9"/>
<circle cx="1214.4" cy="926.7" r="2.9"/>
<circle cx="1167.9" cy="929" r="2.9"/>
<circle cx="1209.5" cy="894.2" r="2.9"/>
<circle cx="1172.9" cy="961.8" r="2.9"/>
<circle cx="1209.9" cy="932.9" r="2.9"/>
<circle cx="1212.8" cy="891.4" r="2.9"/>
<circle cx="1240.6" cy="863.4" r="2.9"/>
</g>
<g fill="#f46d43">
<circle cx="1291" cy="851.4" r="2.9"/>
<circle cx="1279.1" cy="836.9" r="2.9"/>
<circle cx="1282.1" cy="836.1" r="2.9"/>
<circle cx="1264.3" cy="845.2" r="2.9"/>
<circle cx="1209.5" cy="933.1" r="2.9"/>
<circle cx="1204.4" cy="939.4" r="2.9"/>
<circle cx="1235" cy="868.6" r="2.9"/>
<circle cx="1231.9" cy="871.6" r="2.9"/>
<circle cx="1243.3" cy="861.7" r="2.9"/>
<circle cx="1252.6" cy="854.6" r="2.9"/>
<circle cx="1263.2" cy="880.4" r="2.9"/>
<circle cx="1218.3" cy="919.5" r="2.9"/>
<circle cx="1290.1" cy="837.4" r="2.9"/>
<circle cx="1207.5" cy="896.7" r="2.9"/>
<circle cx="1157.6" cy="946.7" r="2.9"/>
<circle cx="1154.2" cy="956.9" r="2.9"/>
<circle cx="1157.6" cy="962.8" r="2.9"/>
<circle cx="1156" cy="950.7" r="2.9"/>
<circle cx="1212.5" cy="928.1" r="2.9"/>
<circle cx="1160.1" cy="963.2" r="2.9"/>
<circle cx="1160" cy="943.2" r="2.9"/>
<circle cx="1176.4" cy="959.3" r="2.9"/>
</g>
<g fill="#f0643f">
<circle cx="1160.7" cy="962.6" r="2.9"/>
<circle cx="1291.7" cy="844.9" r="2.9"/>
<circle cx="1288.1" cy="854.3" r="2.9"/>
<circle cx="1229.7" cy="904.3" r="2.9"/>
<circle cx="1233" cy="901.3" r="2.9"/>
<circle cx="1225.4" cy="879.9" r="2.9"/>
<circle cx="1250" cy="889.3" r="2.9"/>
<circle cx="1274.3" cy="870.2" r="2.9"/>
<circle cx="1271.9" cy="841.8" r="2.9"/>
<circle cx="1198.2" cy="904.3" r="2.9"/>
<circle cx="1182.7" cy="955.4" r="2.9"/>
<circle cx="1280.2" cy="864" r="2.9"/>
<circle cx="1212.1" cy="927.2" r="2.9"/>
</g>
<g fill="#ec5c3b">
<circle cx="1286.2" cy="855.8" r="2.9"/>
<circle cx="1170.7" cy="928" r="2.9"/>
<circle cx="1228.8" cy="877.1" r="2.9"/>
<circle cx="1264.9" cy="877.3" r="2.9"/>
<circle cx="1266.9" cy="845.7" r="2.9"/>
<circle cx="1217.1" cy="918.6" r="2.9"/>
<circle cx="1230.6" cy="902.1" r="2.9"/>
<circle cx="1244.3" cy="863" r="2.9"/>
<circle cx="1161.1" cy="960.6" r="2.9"/>
<circle cx="1274.3" cy="869.2" r="2.9"/>
<circle cx="1177.6" cy="957.5" r="2.9"/>
<circle cx="1203.9" cy="937.7" r="2.9"/>
<circle cx="1258.6" cy="881.9" r="2.9"/>
<circle cx="1247.3" cy="890" r="2.9"/>
<circle cx="1179.8" cy="918.1" r="2.9"/>
<circle cx="1224.5" cy="907.6" r="2.9"/>
<circle cx="1276" cy="841.1" r="2.9"/>
<circle cx="1161.3" cy="944.4" r="2.9"/>
<circle cx="1197.8" cy="943.7" r="2.9"/>
<circle cx="1240.9" cy="866.3" r="2.9"/>
<circle cx="1288.6" cy="848.2" r="2.9"/>
<circle cx="1277.5" cy="865.5" r="2.9"/>
<circle cx="1182.6" cy="915.9" r="2.9"/>
<circle cx="1253.3" cy="885.4" r="2.9"/>
<circle cx="1280.4" cy="862.3" r="2.9"/>
<circle cx="1239.6" cy="867.5" r="2.9"/>
</g>
<g fill="#e85337">
<circle cx="1265.1" cy="847.7" r="2.9"/>
<circle cx="1233.1" cy="873.7" r="2.9"/>
<circle cx="1223.7" cy="884.5" r="2.9"/>
<circle cx="1195.2" cy="945.7" r="2.9"/>
<circle cx="1276.8" cy="841.3" r="2.9"/>
<circle cx="1268.8" cy="873.1" r="2.9"/>
<circle cx="1164.8" cy="959.7" r="2.9"/>
<circle cx="1253.4" cy="885" r="2.9"/>
<circle cx="1228.2" cy="902.7" r="2.9"/>
<circle cx="1212.9" cy="896.2" r="2.9"/>
<circle cx="1285.7" cy="841.1" r="2.9"/>
<circle cx="1212.9" cy="896.2" r="2.9"/>
<circle cx="1216.3" cy="893.4" r="2.9"/>
<circle cx="1175" cy="924" r="2.9"/>
<circle cx="1165.1" cy="959.3" r="2.9"/>
<circle cx="1286.5" cy="852" r="2.9"/>
<circle cx="1287.8" cy="846.4" r="2.9"/>
<circle cx="1281.3" cy="860.2" r="2.9"/>
<circle cx="1172.7" cy="958" r="2.9"/>
<circle cx="1276.7" cy="842" r="2.9"/>
<circle cx="1217.9" cy="892.2" r="2.9"/>
<circle cx="1281.4" cy="860" r="2.9"/>
<circle cx="1275.7" cy="866.2" r="2.9"/>
<circle cx="1182.8" cy="916.5" r="2.9"/>
<circle cx="1243.5" cy="891.2" r="2.9"/>
<circle cx="1215.8" cy="918.2" r="2.9"/>
<circle cx="1249.9" cy="886.8" r="2.9"/>
<circle cx="1275.8" cy="865.9" r="2.9"/>
<circle cx="1175.4" cy="956.8" r="2.9"/>
</g>
<g fill="#e34a33">
<circle cx="1188.1" cy="950.3" r="2.9"/>
<circle cx="1270.3" cy="870.8" r="2.9"/>
<circle cx="1238.1" cy="894.4" r="2.9"/>
<circle cx="1184.6" cy="952.4" r="2.9"/>
<circle cx="1275.5" cy="866" r="2.9"/>
<circle cx="1277.8" cy="842.3" r="2.9"/>
<circle cx="1234" cy="896.8" r="2.9"/>
<circle cx="1279" cy="842.3" r="2.9"/>
<circle cx="1283.9" cy="855.1" r="2.9"/>
<circle cx="1282.6" cy="857.1" r="2.9"/>
<circle cx="1168.3" cy="957.9" r="2.9"/>
<circle cx="1162.9" cy="956.7" r="2.9"/>
<circle cx="1220.7" cy="890.7" r="2.9"/>
<circle cx="1255.1" cy="856.9" r="2.9"/>
<circle cx="1217.5" cy="894.2" r="2.9"/>
<circle cx="1202.9" cy="936.8" r="2.9"/>
<circle cx="1220.7" cy="890.9" r="2.9"/>
<circle cx="1213.2" cy="921.4" r="2.9"/>
<circle cx="1161.4" cy="953.2" r="2.9"/>
<circle cx="1272.2" cy="868.4" r="2.9"/>
<circle cx="1223.7" cy="904.7" r="2.9"/>
<circle cx="1206.5" cy="902.5" r="2.9"/>
<circle cx="1218.9" cy="893.2" r="2.9"/>
<circle cx="1285.7" cy="848.3" r="2.9"/>
<circle cx="1173.6" cy="956.4" r="2.9"/>
<circle cx="1184.7" cy="916" r="2.9"/>
<circle cx="1231.2" cy="878.6" r="2.9"/>
<circle cx="1258" cy="855.4" r="2.9"/>
</g>
<g fill="#df412f">
<circle cx="1217.7" cy="912.3" r="2.9"/>
<circle cx="1254.4" cy="858.4" r="2.9"/>
<circle cx="1184.2" cy="916.6" r="2.9"/>
<circle cx="1217.7" cy="911.8" r="2.9"/>
<circle cx="1196.1" cy="943" r="2.9"/>
<circle cx="1218.5" cy="895.1" r="2.9"/>
<circle cx="1183.5" cy="951.9" r="2.9"/>
<circle cx="1186.5" cy="950.1" r="2.9"/>
<circle cx="1199.4" cy="907.4" r="2.9"/>
<circle cx="1235.6" cy="874.4" r="2.9"/>
<circle cx="1226.3" cy="900.2" r="2.9"/>
<circle cx="1216.5" cy="897.6" r="2.9"/>
<circle cx="1221.7" cy="904.6" r="2.9"/>
<circle cx="1181" cy="919.8" r="2.9"/>
<circle cx="1218.7" cy="909.1" r="2.9"/>
<circle cx="1245.4" cy="865.9" r="2.9"/>
<circle cx="1218.8" cy="895.9" r="2.9"/>
<circle cx="1183.5" cy="951.6" r="2.9"/>
<circle cx="1198.6" cy="940.2" r="2.9"/>
<circle cx="1233.9" cy="876.9" r="2.9"/>
<circle cx="1181.4" cy="952.3" r="2.9"/>
<circle cx="1283.1" cy="850.6" r="2.9"/>
<circle cx="1241.5" cy="869.7" r="2.9"/>
<circle cx="1181.3" cy="952.3" r="2.9"/>
</g>
<g fill="#db392b">
<circle cx="1164.2" cy="950.4" r="2.9"/>
<circle cx="1225.1" cy="889.5" r="2.9"/>
<circle cx="1259.6" cy="855.6" r="2.9"/>
<circle cx="1231.7" cy="880.2" r="2.9"/>
<circle cx="1229" cy="883.8" r="2.9"/>
<circle cx="1218.3" cy="907.9" r="2.9"/>
<circle cx="1282.5" cy="849.1" r="2.9"/>
<circle cx="1219.6" cy="904.5" r="2.9"/>
<circle cx="1186.2" cy="916.3" r="2.9"/>
<circle cx="1282.2" cy="850.8" r="2.9"/>
<circle cx="1228.3" cy="885.7" r="2.9"/>
<circle cx="1167.9" cy="954.2" r="2.9"/>
<circle cx="1221.6" cy="898.1" r="2.9"/>
<circle cx="1226.3" cy="889.5" r="2.9"/>
<circle cx="1270.8" cy="848.6" r="2.9"/>
<circle cx="1226" cy="890.3" r="2.9"/>
<circle cx="1213.1" cy="916.6" r="2.9"/>
<circle cx="1196.6" cy="910.3" r="2.9"/>
<circle cx="1235.6" cy="891.5" r="2.9"/>
<circle cx="1261.8" cy="855" r="2.9"/>
<circle cx="1205.6" cy="906.3" r="2.9"/>
<circle cx="1229" cy="886.6" r="2.9"/>
<circle cx="1238.2" cy="874.4" r="2.9"/>
<circle cx="1212.3" cy="904" r="2.9"/>
<circle cx="1277.4" cy="858.9" r="2.9"/>
</g>
<g fill="#d73027">
<circle cx="1234.6" cy="891.4" r="2.9"/>
<circle cx="1228.7" cy="892.7" r="2.9"/>
<circle cx="1266.4" cy="852.1" r="2.9"/>
<circle cx="1259.9" cy="875" r="2.9"/>
<circle cx="1230.9" cy="892.4" r="2.9"/>
<circle cx="1215.3" cy="908.8" r="2.9"/>
<circle cx="1245.9" cy="867.9" r="2.9"/>
<circle cx="1200.3" cy="909.1" r="2.9"/>
<circle cx="1172.3" cy="953.3" r="2.9"/>
<circle cx="1212.7" cy="905" r="2.9"/>
<circle cx="1279" cy="855.2" r="2.9"/>
<circle cx="1273.2" cy="849" r="2.9"/>
<circle cx="1214.5" cy="909.6" r="2.9"/>
<circle cx="1214.1" cy="905.9" r="2.9"/>
<circle cx="1231.7" cy="891.1" r="2.9"/>
<circle cx="1275.5" cy="848.6" r="2.9"/>
<circle cx="1249.9" cy="865.2" r="2.9"/>
<circle cx="1255.1" cy="878" r="2.9"/>
<circle cx="1173" cy="932.2" r="2.9"/>
<circle cx="1278.8" cy="851.2" r="2.9"/>
<circle cx="1213.7" cy="909" r="2.9"/>
<circle cx="1278.1" cy="855.1" r="2.9"/>
<circle cx="1168.6" cy="941.9" r="2.9"/>
<circle cx="1180.4" cy="922.9" r="2.9"/>
<circle cx="1263.7" cy="855.4" r="2.9"/>
<circle cx="1194.1" cy="942.1" r="2.9"/>
<circle cx="1233.1" cy="884.1" r="2.9"/>
<circle cx="1236.3" cy="879" r="2.9"/>
<circle cx="1233.2" cy="888.3" r="2.9"/>
</g>
<g fill="#d02927">
<circle cx="1277.7" cy="854.4" r="2.9"/>
<circle cx="1266.4" cy="853.8" r="2.9"/>
<circle cx="1212.1" cy="908.5" r="2.9"/>
<circle cx="1264.9" cy="855" r="2.9"/>
<circle cx="1251.9" cy="865" r="2.9"/>
<circle cx="1241.1" cy="885.9" r="2.9"/>
<circle cx="1170.1" cy="950.9" r="2.9"/>
<circle cx="1238.6" cy="886.9" r="2.9"/>
<circle cx="1201.4" cy="910" r="2.9"/>
<circle cx="1260.7" cy="858.4" r="2.9"/>
<circle cx="1211.7" cy="911.6" r="2.9"/>
<circle cx="1202.1" cy="933.1" r="2.9"/>
<circle cx="1275" cy="857.9" r="2.9"/>
<circle cx="1254.8" cy="876.5" r="2.9"/>
<circle cx="1248.4" cy="881.2" r="2.9"/>
<circle cx="1267.1" cy="866.5" r="2.9"/>
<circle cx="1235.7" cy="886.2" r="2.9"/>
<circle cx="1181.4" cy="922.6" r="2.9"/>
<circle cx="1174.1" cy="932.1" r="2.9"/>
<circle cx="1240.9" cy="875.4" r="2.9"/>
<circle cx="1272.8" cy="860.2" r="2.9"/>
<circle cx="1182.3" cy="921.9" r="2.9"/>
<circle cx="1266" cy="855.7" r="2.9"/>
<circle cx="1239.5" cy="877.5" r="2.9"/>
<circle cx="1257.1" cy="873.9" r="2.9"/>
<circle cx="1247" cy="870.2" r="2.9"/>
<circle cx="1171.8" cy="950.2" r="2.9"/>
<circle cx="1241.7" cy="883.7" r="2.9"/>
<circle cx="1260.6" cy="859.9" r="2.9"/>
<circle cx="1242.2" cy="883.3" r="2.9"/>
</g>
<g fill="#c92227">
<circle cx="1249" cy="869" r="2.9"/>
<circle cx="1170.6" cy="940.3" r="2.9"/>
<circle cx="1267.7" cy="855.4" r="2.9"/>
<circle cx="1249.5" cy="879.1" r="2.9"/>
<circle cx="1241.2" cy="876.7" r="2.9"/>
<circle cx="1264.7" cy="866.9" r="2.9"/>
<circle cx="1272.9" cy="855.1" r="2.9"/>
<circle cx="1266.1" cy="865.4" r="2.9"/>
<circle cx="1272.2" cy="857.6" r="2.9"/>
<circle cx="1240.3" cy="882" r="2.9"/>
<circle cx="1257.4" cy="872.2" r="2.9"/>
<circle cx="1252.4" cy="867.3" r="2.9"/>
<circle cx="1208.3" cy="911.8" r="2.9"/>
<circle cx="1268.2" cy="862.6" r="2.9"/>
<circle cx="1181.7" cy="948.3" r="2.9"/>
<circle cx="1257.2" cy="872.1" r="2.9"/>
<circle cx="1251" cy="869" r="2.9"/>
<circle cx="1265.7" cy="863.9" r="2.9"/>
<circle cx="1172.4" cy="937.8" r="2.9"/>
<circle cx="1264.4" cy="859.9" r="2.9"/>
<circle cx="1243.5" cy="878.7" r="2.9"/>
<circle cx="1245.1" cy="875.9" r="2.9"/>
<circle cx="1244.6" cy="877.2" r="2.9"/>
<circle cx="1245.3" cy="875.9" r="2.9"/>
<circle cx="1193.2" cy="915.5" r="2.9"/>
<circle cx="1185.7" cy="920.4" r="2.9"/>
<circle cx="1259.1" cy="864.6" r="2.9"/>
<circle cx="1257.8" cy="868.6" r="2.9"/>
<circle cx="1254.5" cy="868.9" r="2.9"/>
</g>
<g fill="#c21b27">
<circle cx="1255.8" cy="868.9" r="2.9"/>
<circle cx="1206.1" cy="913.2" r="2.9"/>
<circle cx="1186.3" cy="945.2" r="2.9"/>
<circle cx="1207.3" cy="916.5" r="2.9"/>
<circle cx="1200.1" cy="932.9" r="2.9"/>
<circle cx="1172.9" cy="939.4" r="2.9"/>
<circle cx="1205.5" cy="914.4" r="2.9"/>
<circle cx="1172.7" cy="942.1" r="2.9"/>
<circle cx="1201" cy="914.1" r="2.9"/>
<circle cx="1183.4" cy="945.9" r="2.9"/>
<circle cx="1205.1" cy="922.6" r="2.9"/>
<circle cx="1174.4" cy="945.6" r="2.9"/>
</g>
<g fill="#ba1526">
<circle cx="1203.9" cy="914.9" r="2.9"/>
<circle cx="1174.2" cy="945.2" r="2.9"/>
<circle cx="1201" cy="914.8" r="2.9"/>
<circle cx="1179" cy="929.2" r="2.9"/>
<circle cx="1200.8" cy="915.1" r="2.9"/>
<circle cx="1200.9" cy="915.2" r="2.9"/>
<circle cx="1183" cy="945.3" r="2.9"/>
<circle cx="1174.3" cy="942.3" r="2.9"/>
<circle cx="1190.1" cy="919.2" r="2.9"/>
<circle cx="1201.8" cy="916.5" r="2.9"/>
<circle cx="1188.3" cy="941.9" r="2.9"/>
</g>
<g fill="#b30e26">
<circle cx="1200.1" cy="929.9" r="2.9"/>
<circle cx="1203" cy="920.8" r="2.9"/>
<circle cx="1184.1" cy="943.3" r="2.9"/>
<circle cx="1192.8" cy="919.2" r="2.9"/>
<circle cx="1202.1" cy="922.9" r="2.9"/>
<circle cx="1197.8" cy="931.7" r="2.9"/>
<circle cx="1177.9" cy="942.1" r="2.9"/>
<circle cx="1183.1" cy="926.9" r="2.9"/>
<circle cx="1194.4" cy="935.7" r="2.9"/>
<circle cx="1195.2" cy="934.8" r="2.9"/>
</g>
<g fill="#ac0726">
<circle cx="1183.7" cy="942.2" r="2.9"/>
<circle cx="1180.7" cy="930.8" r="2.9"/>
<circle cx="1179.2" cy="941.6" r="2.9"/>
<circle cx="1188.5" cy="923" r="2.9"/>
<circle cx="1194.3" cy="934.8" r="2.9"/>
<circle cx="1200.1" cy="924.2" r="2.9"/>
<circle cx="1194.2" cy="920.9" r="2.9"/>
<circle cx="1197.6" cy="929.5" r="2.9"/>
</g>
<g fill="#a50026">
<circle cx="1187" cy="925.2" r="2.9"/>
<circle cx="1198.1" cy="922.6" r="2.9"/>
<circle cx="1180.7" cy="936.7" r="2.9"/>
<circle cx="1197.7" cy="924.8" r="2.9"/>
<circle cx="1191.6" cy="935.4" r="2.9"/>
<circle cx="1184.6" cy="939.2" r="2.9"/>
<circle cx="1196.9" cy="928" r="2.9"/>
<circle cx="1183.5" cy="938.7" r="2.9"/>
<circle cx="1195.1" cy="930.8" r="2.9"/>
<circle cx="1189" cy="936.3" r="2.9"/>
<circle cx="1185.8" cy="937.4" r="2.9"/>
<circle cx="1192" cy="925" r="2.9"/>
<circle cx="1190.7" cy="934.2" r="2.9"/>
<circle cx="1190.4" cy="926.4" r="2.9"/>
<circle cx="1187.9" cy="934.4" r="2.9"/>
<circle cx="1187.3" cy="932.4" r="2.9"/>
<circle cx="1188.8" cy="932.6" r="2.9"/>
<circle cx="1183.8" cy="932.5" r="2.9"/>
<circle cx="1186.4" cy="930.2" r="2.9"/>
<circle cx="1190" cy="933.5" r="2.9"/>
<circle cx="1188.9" cy="926.1" r="2.9"/>
<circle cx="1188.5" cy="929.8" r="2.9"/>
<circle cx="1186.3" cy="934.6" r="2.9"/>
</g>
</g>
<path d="M878.4,1211.5L1439.0,709.0" stroke="#ff0000" stroke-width="3.1" fill="none"/>
<rect x="878.4" y="709.0" width="560.6" height="502.5" fill="none" stroke="#141414" stroke-width="2.5"/>
<path d="M1018.5,1211.5v-6.5M1018.5,709.0v6.5M1158.7,1211.5v-6.5M1158.7,709.0v6.5M1298.8,1211.5v-6.5M1298.8,709.0v6.5M878.4,1161.2h6.5M1439.0,1161.2h-6.5M878.4,1111h6.5M1439.0,1111h-6.5M878.4,1060.8h6.5M1439.0,1060.8h-6.5M878.4,1010.5h6.5M1439.0,1010.5h-6.5M878.4,960.2h6.5M1439.0,960.2h-6.5M878.4,910h6.5M1439.0,910h-6.5M878.4,859.8h6.5M1439.0,859.8h-6.5M878.4,809.5h6.5M1439.0,809.5h-6.5M878.4,759.2h6.5M1439.0,759.2h-6.5" stroke="#141414" stroke-width="2.5" fill="none"/>
<g font-family='"Liberation Serif", "Times New Roman", serif' font-size="23.4" fill="#262626">
<text x="869.1999999999999" y="1219.8" text-anchor="end">0</text>
<text x="869.1999999999999" y="1169.5" text-anchor="end">2</text>
<text x="869.1999999999999" y="1119.3" text-anchor="end">4</text>
<text x="869.1999999999999" y="1069" text-anchor="end">6</text>
<text x="869.1999999999999" y="1018.8" text-anchor="end">8</text>
<text x="869.1999999999999" y="968.5" text-anchor="end">10</text>
<text x="869.1999999999999" y="918.3" text-anchor="end">12</text>
<text x="869.1999999999999" y="868" text-anchor="end">14</text>
<text x="869.1999999999999" y="817.8" text-anchor="end">16</text>
<text x="869.1999999999999" y="767.5" text-anchor="end">18</text>
<text x="869.1999999999999" y="717.3" text-anchor="end">20</text>
<text x="878.4" y="1242.0" text-anchor="middle">0</text>
<text x="1018.5" y="1242.0" text-anchor="middle">5</text>
<text x="1158.7" y="1242.0" text-anchor="middle">10</text>
<text x="1298.8" y="1242.0" text-anchor="middle">15</text>
<text x="1439" y="1242.0" text-anchor="middle">20</text>
<text x="1158.7" y="1270.0" text-anchor="middle">Original CZ Width (km)</text>
<text transform="translate(835.0,960.2) rotate(-90)" text-anchor="middle">MLP-RF CZ Width (km)</text>
<text x="1506.6" y="1219.8">0</text>
<text x="1506.6" y="1169.5">0.1</text>
<text x="1506.6" y="1119.3">0.2</text>
<text x="1506.6" y="1069">0.3</text>
<text x="1506.6" y="1018.8">0.4</text>
<text x="1506.6" y="968.5">0.5</text>
<text x="1506.6" y="918.3">0.6</text>
<text x="1506.6" y="868">0.7</text>
<text x="1506.6" y="817.8">0.8</text>
<text x="1506.6" y="767.5">0.9</text>
<text x="1506.6" y="717.3">1</text>
</g>
<rect x="1319.3" y="724.4" width="104.5" height="32.30000000000007" fill="#fff" stroke="#262626" stroke-width="2.1"/>
<path d="M1325.5,740.5H1383.2" stroke="#ff0000" stroke-width="3.1"/>
<text x="1388.9" y="749.2" font-family='"Liberation Serif", "Times New Roman", serif' font-size="23.4" fill="#000">1:1</text>
<rect x="1466.2" y="1203.6" width="32.59999999999991" height="8.5" fill="#313695"/>
<rect x="1466.2" y="1195.8" width="32.59999999999991" height="8.5" fill="#343f99"/>
<rect x="1466.2" y="1187.9" width="32.59999999999991" height="8.5" fill="#37489e"/>
<rect x="1466.2" y="1180.1" width="32.59999999999991" height="8.5" fill="#3a51a2"/>
<rect x="1466.2" y="1172.2" width="32.59999999999991" height="8.5" fill="#3c5aa7"/>
<rect x="1466.2" y="1164.4" width="32.59999999999991" height="8.5" fill="#3f63ab"/>
<rect x="1466.2" y="1156.5" width="32.59999999999991" height="8.5" fill="#426cb0"/>
<rect x="1466.2" y="1148.7" width="32.59999999999991" height="8.5" fill="#4575b4"/>
<rect x="1466.2" y="1140.8" width="32.59999999999991" height="8.5" fill="#4c7db8"/>
<rect x="1466.2" y="1133" width="32.59999999999991" height="8.5" fill="#5285bc"/>
<rect x="1466.2" y="1125.1" width="32.59999999999991" height="8.5" fill="#598dc0"/>
<rect x="1466.2" y="1117.3" width="32.59999999999991" height="8.5" fill="#6095c5"/>
<rect x="1466.2" y="1109.4" width="32.59999999999991" height="8.5" fill="#679dc9"/>
<rect x="1466.2" y="1101.6" width="32.59999999999991" height="8.5" fill="#6da5cd"/>
<rect x="1466.2" y="1093.7" width="32.59999999999991" height="8.5" fill="#74add1"/>
<rect x="1466.2" y="1085.9" width="32.59999999999991" height="8.5" fill="#7cb3d4"/>
<rect x="1466.2" y="1078" width="32.59999999999991" height="8.5" fill="#84bad8"/>
<rect x="1466.2" y="1070.2" width="32.59999999999991" height="8.5" fill="#8cc0db"/>
<rect x="1466.2" y="1062.3" width="32.59999999999991" height="8.5" fill="#93c6df"/>
<rect x="1466.2" y="1054.5" width="32.59999999999991" height="8.5" fill="#9bcce2"/>
<rect x="1466.2" y="1046.6" width="32.59999999999991" height="8.5" fill="#a3d3e6"/>
<rect x="1466.2" y="1038.8" width="32.59999999999991" height="8.5" fill="#abd9e9"/>
<rect x="1466.2" y="1030.9" width="32.59999999999991" height="8.5" fill="#b3ddeb"/>
<rect x="1466.2" y="1023.1" width="32.59999999999991" height="8.5" fill="#bae0ed"/>
<rect x="1466.2" y="1015.2" width="32.59999999999991" height="8.5" fill="#c2e4ef"/>
<rect x="1466.2" y="1007.4" width="32.59999999999991" height="8.5" fill="#c9e8f2"/>
<rect x="1466.2" y="999.5" width="32.59999999999991" height="8.5" fill="#d1ecf4"/>
<rect x="1466.2" y="991.7" width="32.59999999999991" height="8.5" fill="#d8eff6"/>
<rect x="1466.2" y="983.8" width="32.59999999999991" height="8.5" fill="#e0f3f8"/>
<rect x="1466.2" y="976" width="32.59999999999991" height="8.5" fill="#e4f0e9"/>
<rect x="1466.2" y="968.1" width="32.59999999999991" height="8.5" fill="#e9eeda"/>
<rect x="1466.2" y="960.2" width="32.59999999999991" height="8.5" fill="#edebcb"/>
<rect x="1466.2" y="952.4" width="32.59999999999991" height="8.5" fill="#f1e8bd"/>
<rect x="1466.2" y="944.5" width="32.59999999999991" height="8.5" fill="#f5e5ae"/>
<rect x="1466.2" y="936.7" width="32.59999999999991" height="8.5" fill="#fae39f"/>
<rect x="1466.2" y="928.8" width="32.59999999999991" height="8.5" fill="#fee090"/>
<rect x="1466.2" y="921" width="32.59999999999991" height="8.5" fill="#fed989"/>
<rect x="1466.2" y="913.1" width="32.59999999999991" height="8.5" fill="#fed283"/>
<rect x="1466.2" y="905.3" width="32.59999999999991" height="8.5" fill="#fecb7c"/>
<rect x="1466.2" y="897.4" width="32.59999999999991" height="8.5" fill="#fdc375"/>
<rect x="1466.2" y="889.6" width="32.59999999999991" height="8.5" fill="#fdbc6e"/>
<rect x="1466.2" y="881.7" width="32.59999999999991" height="8.5" fill="#fdb568"/>
<rect x="1466.2" y="873.9" width="32.59999999999991" height="8.5" fill="#fdae61"/>
<rect x="1466.2" y="866" width="32.59999999999991" height="8.5" fill="#fca55d"/>
<rect x="1466.2" y="858.2" width="32.59999999999991" height="8.5" fill="#fa9b58"/>
<rect x="1466.2" y="850.3" width="32.59999999999991" height="8.5" fill="#f99254"/>
<rect x="1466.2" y="842.5" width="32.59999999999991" height="8.5" fill="#f88950"/>
<rect x="1466.2" y="834.6" width="32.59999999999991" height="8.5" fill="#f7804c"/>
<rect x="1466.2" y="826.8" width="32.59999999999991" height="8.5" fill="#f57647"/>
<rect x="1466.2" y="818.9" width="32.59999999999991" height="8.5" fill="#f46d43"/>
<rect x="1466.2" y="811.1" width="32.59999999999991" height="8.5" fill="#f0643f"/>
<rect x="1466.2" y="803.2" width="32.59999999999991" height="8.5" fill="#ec5c3b"/>
<rect x="1466.2" y="795.4" width="32.59999999999991" height="8.5" fill="#e85337"/>
<rect x="1466.2" y="787.5" width="32.59999999999991" height="8.5" fill="#e34a33"/>
<rect x="1466.2" y="779.7" width="32.59999999999991" height="8.5" fill="#df412f"/>
<rect x="1466.2" y="771.8" width="32.59999999999991" height="8.5" fill="#db392b"/>
<rect x="1466.2" y="764" width="32.59999999999991" height="8.5" fill="#d73027"/>
<rect x="1466.2" y="756.1" width="32.59999999999991" height="8.5" fill="#d02927"/>
<rect x="1466.2" y="748.3" width="32.59999999999991" height="8.5" fill="#c92227"/>
<rect x="1466.2" y="740.4" width="32.59999999999991" height="8.5" fill="#c21b27"/>
<rect x="1466.2" y="732.6" width="32.59999999999991" height="8.5" fill="#ba1526"/>
<rect x="1466.2" y="724.7" width="32.59999999999991" height="8.5" fill="#b30e26"/>
<rect x="1466.2" y="716.9" width="32.59999999999991" height="8.5" fill="#ac0726"/>
<rect x="1466.2" y="709" width="32.59999999999991" height="8.5" fill="#a50026"/>
<rect x="1466.2" y="709.0" width="32.59999999999991" height="502.5" fill="none" stroke="#3a3a3a" stroke-width="1.1"/>
<path d="M1498.8,1161.2h-6M1498.8,1111h-6M1498.8,1060.8h-6M1498.8,1010.5h-6M1498.8,960.2h-6M1498.8,910h-6M1498.8,859.8h-6M1498.8,809.5h-6M1498.8,759.2h-6" stroke="#3a3a3a" stroke-width="1.1" fill="none"/>
<g font-family='"Liberation Sans", Arial, sans-serif' font-weight="700" font-size="29.5" fill="#000">
<text transform="translate(3.0,24.3) scale(1.03,1)">A</text>
<text transform="translate(813.4,24.3) scale(1.03,1)">B</text>
<text transform="translate(0.6,671.6) scale(1.03,1)">C</text>
<text transform="translate(813.4,671.6) scale(1.03,1)">D</text>
</g>
</svg></body></html>
